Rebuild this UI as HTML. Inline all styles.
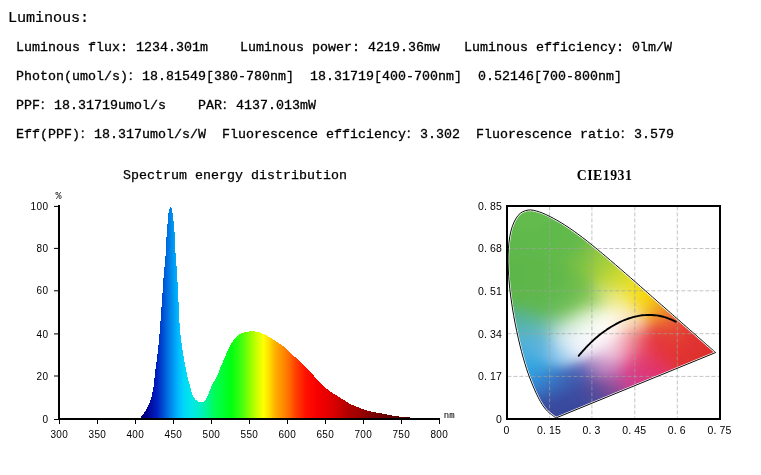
<!DOCTYPE html>
<html><head><meta charset="utf-8"><style>
html,body{margin:0;padding:0;background:#fff;}
body{width:761px;height:475px;overflow:hidden;position:relative;}
svg{position:absolute;left:0;top:0;}
.t{font-family:"Liberation Mono",monospace;font-size:13.3px;fill:#000;stroke:#000;stroke-width:0.3px;}
.h{font-family:"Liberation Mono",monospace;font-size:15.2px;fill:#000;stroke:#000;stroke-width:0.2px;}
.c{font-family:"Liberation Sans","Noto Sans CJK SC",sans-serif;font-size:11px;fill:#000;stroke:#000;stroke-width:0.3px;}
.st{font-family:"Liberation Mono",monospace;font-size:13.3px;fill:#000;stroke:#000;stroke-width:0.25px;}
.ct{font-family:"Liberation Serif",serif;font-size:13.8px;fill:#000;font-weight:bold;}
.ax{font-family:"Liberation Sans",sans-serif;font-size:10px;fill:#000;}
.cl{font-family:"Liberation Sans",sans-serif;font-size:10.5px;fill:#000;}
.pc{font-family:"Liberation Mono",monospace;font-size:10px;fill:#000;}
.nm{font-family:"Liberation Mono",monospace;font-size:9px;fill:#000;stroke:#000;stroke-width:0.05px;}
</style></head><body>
<svg width="761" height="475" viewBox="0 0 761 475">
<defs><linearGradient id="sg" gradientUnits="userSpaceOnUse" x1="140" y1="0" x2="411" y2="0"><stop offset="0.0000" stop-color="#000080"/><stop offset="0.0240" stop-color="#000090"/><stop offset="0.0627" stop-color="#0020c0"/><stop offset="0.1015" stop-color="#0070e0"/><stop offset="0.1402" stop-color="#00b8ff"/><stop offset="0.1624" stop-color="#00d8f8"/><stop offset="0.1908" stop-color="#00e8e8"/><stop offset="0.2251" stop-color="#00f0c0"/><stop offset="0.2568" stop-color="#00f880"/><stop offset="0.2768" stop-color="#00ff50"/><stop offset="0.2970" stop-color="#00ff40"/><stop offset="0.3358" stop-color="#00ff10"/><stop offset="0.3745" stop-color="#40ff10"/><stop offset="0.4059" stop-color="#90ff00"/><stop offset="0.4328" stop-color="#d0ff00"/><stop offset="0.4561" stop-color="#ffff00"/><stop offset="0.4756" stop-color="#ffe000"/><stop offset="0.4989" stop-color="#ffb000"/><stop offset="0.5299" stop-color="#ff8800"/><stop offset="0.5535" stop-color="#ff6800"/><stop offset="0.5738" stop-color="#ff4000"/><stop offset="0.6125" stop-color="#ff1000"/><stop offset="0.6513" stop-color="#f80000"/><stop offset="0.6900" stop-color="#e80000"/><stop offset="0.7292" stop-color="#d00000"/><stop offset="0.7675" stop-color="#b00000"/><stop offset="0.8066" stop-color="#a00000"/><stop offset="0.8542" stop-color="#800000"/><stop offset="0.8930" stop-color="#700000"/><stop offset="0.9321" stop-color="#600000"/><stop offset="0.9705" stop-color="#500000"/><stop offset="1.0000" stop-color="#480000"/></linearGradient><linearGradient id="r206" gradientUnits="userSpaceOnUse" x1="506" y1="0" x2="722" y2="0"><stop offset="0.000" stop-color="#64ba4e"/><stop offset="0.028" stop-color="#64ba4e"/><stop offset="0.056" stop-color="#64ba4e"/><stop offset="0.083" stop-color="#64ba4e"/><stop offset="0.111" stop-color="#64ba4e"/><stop offset="0.139" stop-color="#64ba4e"/><stop offset="0.167" stop-color="#64ba4e"/><stop offset="0.194" stop-color="#64ba4e"/><stop offset="0.222" stop-color="#64ba4e"/><stop offset="0.250" stop-color="#64ba4e"/><stop offset="0.278" stop-color="#63ba4e"/><stop offset="0.306" stop-color="#63ba4d"/><stop offset="0.333" stop-color="#62ba4d"/><stop offset="0.361" stop-color="#62ba4c"/><stop offset="0.389" stop-color="#62ba4c"/><stop offset="0.417" stop-color="#62ba4c"/><stop offset="0.444" stop-color="#63ba4d"/><stop offset="0.472" stop-color="#6ab952"/><stop offset="0.500" stop-color="#8eb377"/><stop offset="0.528" stop-color="#a4ad92"/><stop offset="0.556" stop-color="#a6ac95"/><stop offset="0.583" stop-color="#a6ac96"/><stop offset="0.611" stop-color="#a6ac96"/><stop offset="0.639" stop-color="#a6ac96"/><stop offset="0.667" stop-color="#a6ac96"/><stop offset="0.694" stop-color="#a6ac96"/><stop offset="0.722" stop-color="#a6ac96"/><stop offset="0.750" stop-color="#a6ac96"/><stop offset="0.778" stop-color="#a6ac96"/><stop offset="0.806" stop-color="#a6ac96"/><stop offset="0.833" stop-color="#a6ac96"/><stop offset="0.861" stop-color="#a6ac96"/><stop offset="0.889" stop-color="#a6ac96"/><stop offset="0.917" stop-color="#a6ac96"/><stop offset="0.944" stop-color="#a6ac96"/><stop offset="0.972" stop-color="#a6ac96"/><stop offset="1.000" stop-color="#a6ac96"/></linearGradient><linearGradient id="r209" gradientUnits="userSpaceOnUse" x1="506" y1="0" x2="722" y2="0"><stop offset="0.000" stop-color="#64ba4e"/><stop offset="0.028" stop-color="#64ba4e"/><stop offset="0.056" stop-color="#64ba4e"/><stop offset="0.083" stop-color="#64ba4e"/><stop offset="0.111" stop-color="#64ba4e"/><stop offset="0.139" stop-color="#64ba4e"/><stop offset="0.167" stop-color="#64ba4e"/><stop offset="0.194" stop-color="#64ba4e"/><stop offset="0.222" stop-color="#64ba4e"/><stop offset="0.250" stop-color="#63ba4e"/><stop offset="0.278" stop-color="#63ba4d"/><stop offset="0.306" stop-color="#62ba4d"/><stop offset="0.333" stop-color="#62ba4c"/><stop offset="0.361" stop-color="#62ba4c"/><stop offset="0.389" stop-color="#62ba4c"/><stop offset="0.417" stop-color="#62ba4c"/><stop offset="0.444" stop-color="#63ba4c"/><stop offset="0.472" stop-color="#67bb4d"/><stop offset="0.500" stop-color="#7dbb58"/><stop offset="0.528" stop-color="#9eb47e"/><stop offset="0.556" stop-color="#a5ad91"/><stop offset="0.583" stop-color="#a6ac95"/><stop offset="0.611" stop-color="#a6ac96"/><stop offset="0.639" stop-color="#a6ac96"/><stop offset="0.667" stop-color="#a6ac96"/><stop offset="0.694" stop-color="#a6ac96"/><stop offset="0.722" stop-color="#a6ac96"/><stop offset="0.750" stop-color="#a6ac96"/><stop offset="0.778" stop-color="#a6ac96"/><stop offset="0.806" stop-color="#a6ac96"/><stop offset="0.833" stop-color="#a6ac96"/><stop offset="0.861" stop-color="#a6ac96"/><stop offset="0.889" stop-color="#a6ac96"/><stop offset="0.917" stop-color="#a6ac96"/><stop offset="0.944" stop-color="#a6ac96"/><stop offset="0.972" stop-color="#a6ac96"/><stop offset="1.000" stop-color="#a6ac96"/></linearGradient><linearGradient id="r212" gradientUnits="userSpaceOnUse" x1="506" y1="0" x2="722" y2="0"><stop offset="0.000" stop-color="#64ba4e"/><stop offset="0.028" stop-color="#64ba4e"/><stop offset="0.056" stop-color="#64ba4e"/><stop offset="0.083" stop-color="#64ba4e"/><stop offset="0.111" stop-color="#64ba4e"/><stop offset="0.139" stop-color="#64ba4e"/><stop offset="0.167" stop-color="#64ba4e"/><stop offset="0.194" stop-color="#64ba4e"/><stop offset="0.222" stop-color="#63ba4e"/><stop offset="0.250" stop-color="#63ba4d"/><stop offset="0.278" stop-color="#62ba4d"/><stop offset="0.306" stop-color="#62ba4c"/><stop offset="0.333" stop-color="#62ba4c"/><stop offset="0.361" stop-color="#62ba4c"/><stop offset="0.389" stop-color="#62ba4c"/><stop offset="0.417" stop-color="#62ba4c"/><stop offset="0.444" stop-color="#64ba4c"/><stop offset="0.472" stop-color="#69bc4b"/><stop offset="0.500" stop-color="#7dc14a"/><stop offset="0.528" stop-color="#98c255"/><stop offset="0.556" stop-color="#a3b777"/><stop offset="0.583" stop-color="#a5ae8f"/><stop offset="0.611" stop-color="#a6ac95"/><stop offset="0.639" stop-color="#a6ac96"/><stop offset="0.667" stop-color="#a6ac96"/><stop offset="0.694" stop-color="#a6ac96"/><stop offset="0.722" stop-color="#a6ac96"/><stop offset="0.750" stop-color="#a6ac96"/><stop offset="0.778" stop-color="#a6ac96"/><stop offset="0.806" stop-color="#a6ac96"/><stop offset="0.833" stop-color="#a6ac96"/><stop offset="0.861" stop-color="#a6ac96"/><stop offset="0.889" stop-color="#a6ac96"/><stop offset="0.917" stop-color="#a6ac96"/><stop offset="0.944" stop-color="#a6ac96"/><stop offset="0.972" stop-color="#a6ac96"/><stop offset="1.000" stop-color="#a6ac96"/></linearGradient><linearGradient id="r215" gradientUnits="userSpaceOnUse" x1="506" y1="0" x2="722" y2="0"><stop offset="0.000" stop-color="#64ba4e"/><stop offset="0.028" stop-color="#64ba4e"/><stop offset="0.056" stop-color="#64ba4e"/><stop offset="0.083" stop-color="#64ba4e"/><stop offset="0.111" stop-color="#64ba4e"/><stop offset="0.139" stop-color="#64ba4e"/><stop offset="0.167" stop-color="#64ba4e"/><stop offset="0.194" stop-color="#63ba4e"/><stop offset="0.222" stop-color="#63ba4d"/><stop offset="0.250" stop-color="#62ba4d"/><stop offset="0.278" stop-color="#62ba4d"/><stop offset="0.306" stop-color="#62ba4c"/><stop offset="0.333" stop-color="#62ba4c"/><stop offset="0.361" stop-color="#62ba4c"/><stop offset="0.389" stop-color="#62ba4c"/><stop offset="0.417" stop-color="#63ba4c"/><stop offset="0.444" stop-color="#65bb4b"/><stop offset="0.472" stop-color="#6ebe49"/><stop offset="0.500" stop-color="#85c445"/><stop offset="0.528" stop-color="#98c943"/><stop offset="0.556" stop-color="#9fc64e"/><stop offset="0.583" stop-color="#a3b973"/><stop offset="0.611" stop-color="#a5ae90"/><stop offset="0.639" stop-color="#a6ac96"/><stop offset="0.667" stop-color="#a6ac96"/><stop offset="0.694" stop-color="#a6ac96"/><stop offset="0.722" stop-color="#a6ac96"/><stop offset="0.750" stop-color="#a6ac96"/><stop offset="0.778" stop-color="#a6ac96"/><stop offset="0.806" stop-color="#a6ac96"/><stop offset="0.833" stop-color="#a6ac96"/><stop offset="0.861" stop-color="#a6ac96"/><stop offset="0.889" stop-color="#a6ac96"/><stop offset="0.917" stop-color="#a6ac96"/><stop offset="0.944" stop-color="#a6ac96"/><stop offset="0.972" stop-color="#a6ac96"/><stop offset="1.000" stop-color="#a6ac96"/></linearGradient><linearGradient id="r218" gradientUnits="userSpaceOnUse" x1="506" y1="0" x2="722" y2="0"><stop offset="0.000" stop-color="#63ba4e"/><stop offset="0.028" stop-color="#64ba4e"/><stop offset="0.056" stop-color="#64ba4e"/><stop offset="0.083" stop-color="#64ba4e"/><stop offset="0.111" stop-color="#64ba4e"/><stop offset="0.139" stop-color="#64ba4e"/><stop offset="0.167" stop-color="#63ba4e"/><stop offset="0.194" stop-color="#63ba4d"/><stop offset="0.222" stop-color="#62ba4d"/><stop offset="0.250" stop-color="#62b94d"/><stop offset="0.278" stop-color="#61ba4c"/><stop offset="0.306" stop-color="#62ba4c"/><stop offset="0.333" stop-color="#62ba4c"/><stop offset="0.361" stop-color="#62ba4c"/><stop offset="0.389" stop-color="#62ba4c"/><stop offset="0.417" stop-color="#63ba4c"/><stop offset="0.444" stop-color="#67bc4b"/><stop offset="0.472" stop-color="#76c047"/><stop offset="0.500" stop-color="#8dc742"/><stop offset="0.528" stop-color="#9bcb40"/><stop offset="0.556" stop-color="#9fcc41"/><stop offset="0.583" stop-color="#a1c74d"/><stop offset="0.611" stop-color="#a4b778"/><stop offset="0.639" stop-color="#a6ad93"/><stop offset="0.667" stop-color="#a6ac96"/><stop offset="0.694" stop-color="#a6ac96"/><stop offset="0.722" stop-color="#a6ac96"/><stop offset="0.750" stop-color="#a6ac96"/><stop offset="0.778" stop-color="#a6ac96"/><stop offset="0.806" stop-color="#a6ac96"/><stop offset="0.833" stop-color="#a6ac96"/><stop offset="0.861" stop-color="#a6ac96"/><stop offset="0.889" stop-color="#a6ac96"/><stop offset="0.917" stop-color="#a6ac96"/><stop offset="0.944" stop-color="#a6ac96"/><stop offset="0.972" stop-color="#a6ac96"/><stop offset="1.000" stop-color="#a6ac96"/></linearGradient><linearGradient id="r221" gradientUnits="userSpaceOnUse" x1="506" y1="0" x2="722" y2="0"><stop offset="0.000" stop-color="#63ba4d"/><stop offset="0.028" stop-color="#63ba4d"/><stop offset="0.056" stop-color="#63ba4e"/><stop offset="0.083" stop-color="#63ba4e"/><stop offset="0.111" stop-color="#63ba4e"/><stop offset="0.139" stop-color="#63ba4e"/><stop offset="0.167" stop-color="#63ba4d"/><stop offset="0.194" stop-color="#62ba4d"/><stop offset="0.222" stop-color="#61b94d"/><stop offset="0.250" stop-color="#61b94c"/><stop offset="0.278" stop-color="#61ba4c"/><stop offset="0.306" stop-color="#62ba4c"/><stop offset="0.333" stop-color="#62ba4c"/><stop offset="0.361" stop-color="#62ba4c"/><stop offset="0.389" stop-color="#63ba4c"/><stop offset="0.417" stop-color="#65bb4b"/><stop offset="0.444" stop-color="#6bbd4a"/><stop offset="0.472" stop-color="#7ec245"/><stop offset="0.500" stop-color="#93c941"/><stop offset="0.528" stop-color="#9ccc3f"/><stop offset="0.556" stop-color="#9fcd3e"/><stop offset="0.583" stop-color="#a1cc40"/><stop offset="0.611" stop-color="#a3c651"/><stop offset="0.639" stop-color="#a6b382"/><stop offset="0.667" stop-color="#a6ac94"/><stop offset="0.694" stop-color="#a6ac96"/><stop offset="0.722" stop-color="#a6ac96"/><stop offset="0.750" stop-color="#a6ac96"/><stop offset="0.778" stop-color="#a6ac96"/><stop offset="0.806" stop-color="#a6ac96"/><stop offset="0.833" stop-color="#a6ac96"/><stop offset="0.861" stop-color="#a6ac96"/><stop offset="0.889" stop-color="#a6ac96"/><stop offset="0.917" stop-color="#a6ac96"/><stop offset="0.944" stop-color="#a6ac96"/><stop offset="0.972" stop-color="#a6ac96"/><stop offset="1.000" stop-color="#a6ac96"/></linearGradient><linearGradient id="r224" gradientUnits="userSpaceOnUse" x1="506" y1="0" x2="722" y2="0"><stop offset="0.000" stop-color="#62b94d"/><stop offset="0.028" stop-color="#62b94d"/><stop offset="0.056" stop-color="#63ba4d"/><stop offset="0.083" stop-color="#63ba4d"/><stop offset="0.111" stop-color="#63ba4d"/><stop offset="0.139" stop-color="#63ba4d"/><stop offset="0.167" stop-color="#62b94d"/><stop offset="0.194" stop-color="#61b94d"/><stop offset="0.222" stop-color="#61b94c"/><stop offset="0.250" stop-color="#61b94c"/><stop offset="0.278" stop-color="#61ba4c"/><stop offset="0.306" stop-color="#62ba4c"/><stop offset="0.333" stop-color="#62ba4c"/><stop offset="0.361" stop-color="#62ba4c"/><stop offset="0.389" stop-color="#63ba4c"/><stop offset="0.417" stop-color="#67bb4b"/><stop offset="0.444" stop-color="#71be48"/><stop offset="0.472" stop-color="#87c543"/><stop offset="0.500" stop-color="#97ca40"/><stop offset="0.528" stop-color="#9dcc3f"/><stop offset="0.556" stop-color="#a0cd3e"/><stop offset="0.583" stop-color="#a2cd3e"/><stop offset="0.611" stop-color="#a4cd41"/><stop offset="0.639" stop-color="#a9c35b"/><stop offset="0.667" stop-color="#a8b08b"/><stop offset="0.694" stop-color="#a6ac95"/><stop offset="0.722" stop-color="#a6ac96"/><stop offset="0.750" stop-color="#a6ac96"/><stop offset="0.778" stop-color="#a6ac96"/><stop offset="0.806" stop-color="#a6ac96"/><stop offset="0.833" stop-color="#a6ac96"/><stop offset="0.861" stop-color="#a6ac96"/><stop offset="0.889" stop-color="#a6ac96"/><stop offset="0.917" stop-color="#a6ac96"/><stop offset="0.944" stop-color="#a6ac96"/><stop offset="0.972" stop-color="#a6ac96"/><stop offset="1.000" stop-color="#a6ac96"/></linearGradient><linearGradient id="r227" gradientUnits="userSpaceOnUse" x1="506" y1="0" x2="722" y2="0"><stop offset="0.000" stop-color="#60b94c"/><stop offset="0.028" stop-color="#61b94c"/><stop offset="0.056" stop-color="#62b94d"/><stop offset="0.083" stop-color="#62b94d"/><stop offset="0.111" stop-color="#62b94d"/><stop offset="0.139" stop-color="#62b94d"/><stop offset="0.167" stop-color="#61b94d"/><stop offset="0.194" stop-color="#61b94c"/><stop offset="0.222" stop-color="#61b94c"/><stop offset="0.250" stop-color="#61b94c"/><stop offset="0.278" stop-color="#62ba4c"/><stop offset="0.306" stop-color="#62ba4c"/><stop offset="0.333" stop-color="#62ba4c"/><stop offset="0.361" stop-color="#63ba4c"/><stop offset="0.389" stop-color="#64bb4b"/><stop offset="0.417" stop-color="#6abc4a"/><stop offset="0.444" stop-color="#79c147"/><stop offset="0.472" stop-color="#8dc742"/><stop offset="0.500" stop-color="#99cb3f"/><stop offset="0.528" stop-color="#9ecc3e"/><stop offset="0.556" stop-color="#a0cd3e"/><stop offset="0.583" stop-color="#a3ce3d"/><stop offset="0.611" stop-color="#a7ce3c"/><stop offset="0.639" stop-color="#afce40"/><stop offset="0.667" stop-color="#b1bf67"/><stop offset="0.694" stop-color="#a8af8e"/><stop offset="0.722" stop-color="#a6ac95"/><stop offset="0.750" stop-color="#a6ac96"/><stop offset="0.778" stop-color="#a6ac96"/><stop offset="0.806" stop-color="#a6ac96"/><stop offset="0.833" stop-color="#a6ac96"/><stop offset="0.861" stop-color="#a6ac96"/><stop offset="0.889" stop-color="#a6ac96"/><stop offset="0.917" stop-color="#a6ac96"/><stop offset="0.944" stop-color="#a6ac96"/><stop offset="0.972" stop-color="#a6ac96"/><stop offset="1.000" stop-color="#a6ac96"/></linearGradient><linearGradient id="r230" gradientUnits="userSpaceOnUse" x1="506" y1="0" x2="722" y2="0"><stop offset="0.000" stop-color="#60b84b"/><stop offset="0.028" stop-color="#60b84c"/><stop offset="0.056" stop-color="#61b94c"/><stop offset="0.083" stop-color="#61b94c"/><stop offset="0.111" stop-color="#61b94c"/><stop offset="0.139" stop-color="#61b94c"/><stop offset="0.167" stop-color="#61b94c"/><stop offset="0.194" stop-color="#60b94c"/><stop offset="0.222" stop-color="#61b94c"/><stop offset="0.250" stop-color="#61ba4c"/><stop offset="0.278" stop-color="#62ba4c"/><stop offset="0.306" stop-color="#62ba4c"/><stop offset="0.333" stop-color="#62ba4c"/><stop offset="0.361" stop-color="#63ba4c"/><stop offset="0.389" stop-color="#66bb4b"/><stop offset="0.417" stop-color="#6ebe49"/><stop offset="0.444" stop-color="#80c345"/><stop offset="0.472" stop-color="#92c841"/><stop offset="0.500" stop-color="#9bcb3f"/><stop offset="0.528" stop-color="#9fcd3e"/><stop offset="0.556" stop-color="#a1cd3d"/><stop offset="0.583" stop-color="#a4ce3c"/><stop offset="0.611" stop-color="#aad03a"/><stop offset="0.639" stop-color="#b5d237"/><stop offset="0.667" stop-color="#c0d03d"/><stop offset="0.694" stop-color="#b5bc6f"/><stop offset="0.722" stop-color="#a8ae91"/><stop offset="0.750" stop-color="#a6ac96"/><stop offset="0.778" stop-color="#a6ac96"/><stop offset="0.806" stop-color="#a6ac96"/><stop offset="0.833" stop-color="#a6ac96"/><stop offset="0.861" stop-color="#a6ac96"/><stop offset="0.889" stop-color="#a6ac96"/><stop offset="0.917" stop-color="#a6ac96"/><stop offset="0.944" stop-color="#a6ac96"/><stop offset="0.972" stop-color="#a6ac96"/><stop offset="1.000" stop-color="#a6ac96"/></linearGradient><linearGradient id="r233" gradientUnits="userSpaceOnUse" x1="506" y1="0" x2="722" y2="0"><stop offset="0.000" stop-color="#5fb84b"/><stop offset="0.028" stop-color="#5fb84b"/><stop offset="0.056" stop-color="#60b84b"/><stop offset="0.083" stop-color="#60b94c"/><stop offset="0.111" stop-color="#60b94c"/><stop offset="0.139" stop-color="#60b94c"/><stop offset="0.167" stop-color="#60b94c"/><stop offset="0.194" stop-color="#60b94c"/><stop offset="0.222" stop-color="#61b94c"/><stop offset="0.250" stop-color="#61ba4c"/><stop offset="0.278" stop-color="#62ba4c"/><stop offset="0.306" stop-color="#62ba4c"/><stop offset="0.333" stop-color="#63ba4c"/><stop offset="0.361" stop-color="#64bb4b"/><stop offset="0.389" stop-color="#69bc4a"/><stop offset="0.417" stop-color="#74bf47"/><stop offset="0.444" stop-color="#86c543"/><stop offset="0.472" stop-color="#95c940"/><stop offset="0.500" stop-color="#9ccc3f"/><stop offset="0.528" stop-color="#a0cd3e"/><stop offset="0.556" stop-color="#a2ce3d"/><stop offset="0.583" stop-color="#a6cf3c"/><stop offset="0.611" stop-color="#aed138"/><stop offset="0.639" stop-color="#bcd432"/><stop offset="0.667" stop-color="#c9d72e"/><stop offset="0.694" stop-color="#cad03d"/><stop offset="0.722" stop-color="#b3b878"/><stop offset="0.750" stop-color="#a7ad93"/><stop offset="0.778" stop-color="#a6ac96"/><stop offset="0.806" stop-color="#a6ac96"/><stop offset="0.833" stop-color="#a6ac96"/><stop offset="0.861" stop-color="#a6ac96"/><stop offset="0.889" stop-color="#a6ac96"/><stop offset="0.917" stop-color="#a6ac96"/><stop offset="0.944" stop-color="#a6ac96"/><stop offset="0.972" stop-color="#a6ac96"/><stop offset="1.000" stop-color="#a6ac96"/></linearGradient><linearGradient id="r236" gradientUnits="userSpaceOnUse" x1="506" y1="0" x2="722" y2="0"><stop offset="0.000" stop-color="#5fb84b"/><stop offset="0.028" stop-color="#5fb84b"/><stop offset="0.056" stop-color="#5fb84b"/><stop offset="0.083" stop-color="#60b84b"/><stop offset="0.111" stop-color="#60b94c"/><stop offset="0.139" stop-color="#60b94c"/><stop offset="0.167" stop-color="#60b94c"/><stop offset="0.194" stop-color="#60b94c"/><stop offset="0.222" stop-color="#61b94c"/><stop offset="0.250" stop-color="#61ba4c"/><stop offset="0.278" stop-color="#62ba4c"/><stop offset="0.306" stop-color="#62ba4c"/><stop offset="0.333" stop-color="#64ba4c"/><stop offset="0.361" stop-color="#66bb4b"/><stop offset="0.389" stop-color="#6dbd49"/><stop offset="0.417" stop-color="#7bc146"/><stop offset="0.444" stop-color="#8bc642"/><stop offset="0.472" stop-color="#97ca40"/><stop offset="0.500" stop-color="#9dcc3e"/><stop offset="0.528" stop-color="#a1cd3e"/><stop offset="0.556" stop-color="#a4ce3c"/><stop offset="0.583" stop-color="#a9cf3a"/><stop offset="0.611" stop-color="#b4d236"/><stop offset="0.639" stop-color="#c2d62f"/><stop offset="0.667" stop-color="#ced929"/><stop offset="0.694" stop-color="#d4d929"/><stop offset="0.722" stop-color="#cbcd44"/><stop offset="0.750" stop-color="#afb384"/><stop offset="0.778" stop-color="#a7ac95"/><stop offset="0.806" stop-color="#a6ac96"/><stop offset="0.833" stop-color="#a6ac96"/><stop offset="0.861" stop-color="#a6ac96"/><stop offset="0.889" stop-color="#a6ac96"/><stop offset="0.917" stop-color="#a6ac96"/><stop offset="0.944" stop-color="#a6ac96"/><stop offset="0.972" stop-color="#a6ac96"/><stop offset="1.000" stop-color="#a6ac96"/></linearGradient><linearGradient id="r239" gradientUnits="userSpaceOnUse" x1="506" y1="0" x2="722" y2="0"><stop offset="0.000" stop-color="#5fb84b"/><stop offset="0.028" stop-color="#5fb84b"/><stop offset="0.056" stop-color="#5fb84b"/><stop offset="0.083" stop-color="#5fb84b"/><stop offset="0.111" stop-color="#60b94c"/><stop offset="0.139" stop-color="#60b94c"/><stop offset="0.167" stop-color="#60b94c"/><stop offset="0.194" stop-color="#60b94c"/><stop offset="0.222" stop-color="#61b94c"/><stop offset="0.250" stop-color="#62ba4c"/><stop offset="0.278" stop-color="#62ba4c"/><stop offset="0.306" stop-color="#63ba4c"/><stop offset="0.333" stop-color="#65bb4b"/><stop offset="0.361" stop-color="#69bc4a"/><stop offset="0.389" stop-color="#72bf48"/><stop offset="0.417" stop-color="#80c345"/><stop offset="0.444" stop-color="#8fc841"/><stop offset="0.472" stop-color="#99cb3f"/><stop offset="0.500" stop-color="#9fcc3e"/><stop offset="0.528" stop-color="#a2cd3d"/><stop offset="0.556" stop-color="#a6cf3c"/><stop offset="0.583" stop-color="#add139"/><stop offset="0.611" stop-color="#bad433"/><stop offset="0.639" stop-color="#c8d72c"/><stop offset="0.667" stop-color="#d2da27"/><stop offset="0.694" stop-color="#d8db24"/><stop offset="0.722" stop-color="#dad926"/><stop offset="0.750" stop-color="#c7c653"/><stop offset="0.778" stop-color="#abaf8c"/><stop offset="0.806" stop-color="#a6ac95"/><stop offset="0.833" stop-color="#a6ac96"/><stop offset="0.861" stop-color="#a6ac96"/><stop offset="0.889" stop-color="#a6ac96"/><stop offset="0.917" stop-color="#a6ac96"/><stop offset="0.944" stop-color="#a6ac96"/><stop offset="0.972" stop-color="#a6ac96"/><stop offset="1.000" stop-color="#a6ac96"/></linearGradient><linearGradient id="r242" gradientUnits="userSpaceOnUse" x1="506" y1="0" x2="722" y2="0"><stop offset="0.000" stop-color="#5fb84b"/><stop offset="0.028" stop-color="#5fb84b"/><stop offset="0.056" stop-color="#5fb84b"/><stop offset="0.083" stop-color="#5fb84b"/><stop offset="0.111" stop-color="#5fb84b"/><stop offset="0.139" stop-color="#60b94c"/><stop offset="0.167" stop-color="#60b94c"/><stop offset="0.194" stop-color="#60b94c"/><stop offset="0.222" stop-color="#61ba4c"/><stop offset="0.250" stop-color="#62ba4c"/><stop offset="0.278" stop-color="#63ba4c"/><stop offset="0.306" stop-color="#64ba4c"/><stop offset="0.333" stop-color="#66bb4b"/><stop offset="0.361" stop-color="#6cbd49"/><stop offset="0.389" stop-color="#77c047"/><stop offset="0.417" stop-color="#85c444"/><stop offset="0.444" stop-color="#92c941"/><stop offset="0.472" stop-color="#9bcb3f"/><stop offset="0.500" stop-color="#a0cd3e"/><stop offset="0.528" stop-color="#a4ce3d"/><stop offset="0.556" stop-color="#a9cf3b"/><stop offset="0.583" stop-color="#b2d237"/><stop offset="0.611" stop-color="#c0d530"/><stop offset="0.639" stop-color="#ccd82a"/><stop offset="0.667" stop-color="#d5da25"/><stop offset="0.694" stop-color="#dbdb21"/><stop offset="0.722" stop-color="#e0dc1d"/><stop offset="0.750" stop-color="#dfd625"/><stop offset="0.778" stop-color="#bfbd66"/><stop offset="0.806" stop-color="#a9ad91"/><stop offset="0.833" stop-color="#a6ac96"/><stop offset="0.861" stop-color="#a6ac96"/><stop offset="0.889" stop-color="#a6ac96"/><stop offset="0.917" stop-color="#a6ac96"/><stop offset="0.944" stop-color="#a6ac96"/><stop offset="0.972" stop-color="#a6ac96"/><stop offset="1.000" stop-color="#a6ac96"/></linearGradient><linearGradient id="r245" gradientUnits="userSpaceOnUse" x1="506" y1="0" x2="722" y2="0"><stop offset="0.000" stop-color="#5fb84b"/><stop offset="0.028" stop-color="#5fb84b"/><stop offset="0.056" stop-color="#5fb84b"/><stop offset="0.083" stop-color="#5fb84b"/><stop offset="0.111" stop-color="#5fb84b"/><stop offset="0.139" stop-color="#60b94c"/><stop offset="0.167" stop-color="#60b94c"/><stop offset="0.194" stop-color="#61b94c"/><stop offset="0.222" stop-color="#61ba4c"/><stop offset="0.250" stop-color="#62ba4c"/><stop offset="0.278" stop-color="#63ba4c"/><stop offset="0.306" stop-color="#65bb4b"/><stop offset="0.333" stop-color="#69bc4a"/><stop offset="0.361" stop-color="#71be48"/><stop offset="0.389" stop-color="#7cc146"/><stop offset="0.417" stop-color="#89c543"/><stop offset="0.444" stop-color="#95c940"/><stop offset="0.472" stop-color="#9ccc3f"/><stop offset="0.500" stop-color="#a1cd3d"/><stop offset="0.528" stop-color="#a6ce3c"/><stop offset="0.556" stop-color="#add039"/><stop offset="0.583" stop-color="#b8d334"/><stop offset="0.611" stop-color="#c5d72e"/><stop offset="0.639" stop-color="#d0d928"/><stop offset="0.667" stop-color="#d7db24"/><stop offset="0.694" stop-color="#dddc1f"/><stop offset="0.722" stop-color="#e3dc19"/><stop offset="0.750" stop-color="#e8db15"/><stop offset="0.778" stop-color="#dfd22b"/><stop offset="0.806" stop-color="#b5b57a"/><stop offset="0.833" stop-color="#a7ac94"/><stop offset="0.861" stop-color="#a6ac96"/><stop offset="0.889" stop-color="#a6ac96"/><stop offset="0.917" stop-color="#a6ac96"/><stop offset="0.944" stop-color="#a6ac96"/><stop offset="0.972" stop-color="#a6ac96"/><stop offset="1.000" stop-color="#a6ac96"/></linearGradient><linearGradient id="r248" gradientUnits="userSpaceOnUse" x1="506" y1="0" x2="722" y2="0"><stop offset="0.000" stop-color="#5fb84b"/><stop offset="0.028" stop-color="#5fb84b"/><stop offset="0.056" stop-color="#5fb84b"/><stop offset="0.083" stop-color="#5fb84b"/><stop offset="0.111" stop-color="#5fb84b"/><stop offset="0.139" stop-color="#60b94c"/><stop offset="0.167" stop-color="#60b94c"/><stop offset="0.194" stop-color="#61b94c"/><stop offset="0.222" stop-color="#62ba4c"/><stop offset="0.250" stop-color="#62ba4c"/><stop offset="0.278" stop-color="#64ba4b"/><stop offset="0.306" stop-color="#67bb4b"/><stop offset="0.333" stop-color="#6cbd49"/><stop offset="0.361" stop-color="#75bf47"/><stop offset="0.389" stop-color="#7fc345"/><stop offset="0.417" stop-color="#8cc642"/><stop offset="0.444" stop-color="#97ca40"/><stop offset="0.472" stop-color="#9ecc3e"/><stop offset="0.500" stop-color="#a3ce3d"/><stop offset="0.528" stop-color="#a9cf3b"/><stop offset="0.556" stop-color="#b1d237"/><stop offset="0.583" stop-color="#bed532"/><stop offset="0.611" stop-color="#cad82b"/><stop offset="0.639" stop-color="#d3da26"/><stop offset="0.667" stop-color="#dadb22"/><stop offset="0.694" stop-color="#e0dc1d"/><stop offset="0.722" stop-color="#e6dd16"/><stop offset="0.750" stop-color="#eddc10"/><stop offset="0.778" stop-color="#eeda11"/><stop offset="0.806" stop-color="#d6c840"/><stop offset="0.833" stop-color="#adb089"/><stop offset="0.861" stop-color="#a6ac95"/><stop offset="0.889" stop-color="#a6ac96"/><stop offset="0.917" stop-color="#a6ac96"/><stop offset="0.944" stop-color="#a6ac96"/><stop offset="0.972" stop-color="#a6ac96"/><stop offset="1.000" stop-color="#a6ac96"/></linearGradient><linearGradient id="r251" gradientUnits="userSpaceOnUse" x1="506" y1="0" x2="722" y2="0"><stop offset="0.000" stop-color="#5fb84b"/><stop offset="0.028" stop-color="#5fb84b"/><stop offset="0.056" stop-color="#5fb84b"/><stop offset="0.083" stop-color="#5fb84b"/><stop offset="0.111" stop-color="#5fb84b"/><stop offset="0.139" stop-color="#5fb84b"/><stop offset="0.167" stop-color="#60b94c"/><stop offset="0.194" stop-color="#61b94c"/><stop offset="0.222" stop-color="#62ba4c"/><stop offset="0.250" stop-color="#63ba4c"/><stop offset="0.278" stop-color="#65bb4b"/><stop offset="0.306" stop-color="#69bc4a"/><stop offset="0.333" stop-color="#70be48"/><stop offset="0.361" stop-color="#78c046"/><stop offset="0.389" stop-color="#83c444"/><stop offset="0.417" stop-color="#8fc741"/><stop offset="0.444" stop-color="#99cb3f"/><stop offset="0.472" stop-color="#a0cd3e"/><stop offset="0.500" stop-color="#a5ce3c"/><stop offset="0.528" stop-color="#acd039"/><stop offset="0.556" stop-color="#b7d335"/><stop offset="0.583" stop-color="#c3d62f"/><stop offset="0.611" stop-color="#ced929"/><stop offset="0.639" stop-color="#d6db25"/><stop offset="0.667" stop-color="#dcdc20"/><stop offset="0.694" stop-color="#e3dc1a"/><stop offset="0.722" stop-color="#eadd13"/><stop offset="0.750" stop-color="#efdc0d"/><stop offset="0.778" stop-color="#f2db0b"/><stop offset="0.806" stop-color="#edd517"/><stop offset="0.833" stop-color="#c4bb61"/><stop offset="0.861" stop-color="#a9ad91"/><stop offset="0.889" stop-color="#a6ac96"/><stop offset="0.917" stop-color="#a6ac96"/><stop offset="0.944" stop-color="#a6ac96"/><stop offset="0.972" stop-color="#a6ac96"/><stop offset="1.000" stop-color="#a6ac96"/></linearGradient><linearGradient id="r254" gradientUnits="userSpaceOnUse" x1="506" y1="0" x2="722" y2="0"><stop offset="0.000" stop-color="#5eb74b"/><stop offset="0.028" stop-color="#5eb74b"/><stop offset="0.056" stop-color="#5eb84b"/><stop offset="0.083" stop-color="#5fb84b"/><stop offset="0.111" stop-color="#5fb84b"/><stop offset="0.139" stop-color="#5fb84b"/><stop offset="0.167" stop-color="#60b84b"/><stop offset="0.194" stop-color="#61b94b"/><stop offset="0.222" stop-color="#62ba4b"/><stop offset="0.250" stop-color="#63ba4b"/><stop offset="0.278" stop-color="#67bb4b"/><stop offset="0.306" stop-color="#6cbd49"/><stop offset="0.333" stop-color="#73bf47"/><stop offset="0.361" stop-color="#7bc145"/><stop offset="0.389" stop-color="#85c443"/><stop offset="0.417" stop-color="#91c841"/><stop offset="0.444" stop-color="#9bcb3f"/><stop offset="0.472" stop-color="#a2cd3d"/><stop offset="0.500" stop-color="#a8cf3b"/><stop offset="0.528" stop-color="#b1d138"/><stop offset="0.556" stop-color="#bcd433"/><stop offset="0.583" stop-color="#c8d72d"/><stop offset="0.611" stop-color="#d1da28"/><stop offset="0.639" stop-color="#d8db23"/><stop offset="0.667" stop-color="#dfdc1e"/><stop offset="0.694" stop-color="#e6dc17"/><stop offset="0.722" stop-color="#ecdd10"/><stop offset="0.750" stop-color="#f1dc0b"/><stop offset="0.778" stop-color="#f4db09"/><stop offset="0.806" stop-color="#f3d60c"/><stop offset="0.833" stop-color="#e4c92a"/><stop offset="0.861" stop-color="#b5b17d"/><stop offset="0.889" stop-color="#a7ac94"/><stop offset="0.917" stop-color="#a6ac96"/><stop offset="0.944" stop-color="#a6ac96"/><stop offset="0.972" stop-color="#a6ac96"/><stop offset="1.000" stop-color="#a6ac96"/></linearGradient><linearGradient id="r257" gradientUnits="userSpaceOnUse" x1="506" y1="0" x2="722" y2="0"><stop offset="0.000" stop-color="#5db74a"/><stop offset="0.028" stop-color="#5db74a"/><stop offset="0.056" stop-color="#5eb74a"/><stop offset="0.083" stop-color="#5eb74b"/><stop offset="0.111" stop-color="#5eb74b"/><stop offset="0.139" stop-color="#5fb84b"/><stop offset="0.167" stop-color="#5fb84b"/><stop offset="0.194" stop-color="#60b94b"/><stop offset="0.222" stop-color="#62b94b"/><stop offset="0.250" stop-color="#64ba4b"/><stop offset="0.278" stop-color="#68bb4a"/><stop offset="0.306" stop-color="#6fbd48"/><stop offset="0.333" stop-color="#76c047"/><stop offset="0.361" stop-color="#7ec245"/><stop offset="0.389" stop-color="#88c543"/><stop offset="0.417" stop-color="#94c940"/><stop offset="0.444" stop-color="#9dcc3e"/><stop offset="0.472" stop-color="#a4ce3c"/><stop offset="0.500" stop-color="#acd03a"/><stop offset="0.528" stop-color="#b5d336"/><stop offset="0.556" stop-color="#c1d630"/><stop offset="0.583" stop-color="#ccd82b"/><stop offset="0.611" stop-color="#d4da26"/><stop offset="0.639" stop-color="#dbdb21"/><stop offset="0.667" stop-color="#e2dc1b"/><stop offset="0.694" stop-color="#e9dd14"/><stop offset="0.722" stop-color="#efdc0d"/><stop offset="0.750" stop-color="#f3dc0a"/><stop offset="0.778" stop-color="#f5d909"/><stop offset="0.806" stop-color="#f5d40b"/><stop offset="0.833" stop-color="#f1cb15"/><stop offset="0.861" stop-color="#d4b949"/><stop offset="0.889" stop-color="#adad8b"/><stop offset="0.917" stop-color="#a6ac95"/><stop offset="0.944" stop-color="#a6ac96"/><stop offset="0.972" stop-color="#a6ac96"/><stop offset="1.000" stop-color="#a6ac96"/></linearGradient><linearGradient id="r260" gradientUnits="userSpaceOnUse" x1="506" y1="0" x2="722" y2="0"><stop offset="0.000" stop-color="#5cb64a"/><stop offset="0.028" stop-color="#5db64a"/><stop offset="0.056" stop-color="#5db74a"/><stop offset="0.083" stop-color="#5db74a"/><stop offset="0.111" stop-color="#5eb74a"/><stop offset="0.139" stop-color="#5eb74a"/><stop offset="0.167" stop-color="#5fb84a"/><stop offset="0.194" stop-color="#60b84a"/><stop offset="0.222" stop-color="#61b94b"/><stop offset="0.250" stop-color="#64ba4a"/><stop offset="0.278" stop-color="#69bc49"/><stop offset="0.306" stop-color="#71be48"/><stop offset="0.333" stop-color="#78c046"/><stop offset="0.361" stop-color="#80c345"/><stop offset="0.389" stop-color="#8ac642"/><stop offset="0.417" stop-color="#96ca40"/><stop offset="0.444" stop-color="#a0cd3e"/><stop offset="0.472" stop-color="#a7cf3b"/><stop offset="0.500" stop-color="#b0d138"/><stop offset="0.528" stop-color="#bad434"/><stop offset="0.556" stop-color="#c6d72e"/><stop offset="0.583" stop-color="#cfd929"/><stop offset="0.611" stop-color="#d7db24"/><stop offset="0.639" stop-color="#dedc1f"/><stop offset="0.667" stop-color="#e5dc18"/><stop offset="0.694" stop-color="#ecdd11"/><stop offset="0.722" stop-color="#f1dc0b"/><stop offset="0.750" stop-color="#f4db09"/><stop offset="0.778" stop-color="#f5d709"/><stop offset="0.806" stop-color="#f5d10c"/><stop offset="0.833" stop-color="#f3c813"/><stop offset="0.861" stop-color="#ebbb26"/><stop offset="0.889" stop-color="#c3ae68"/><stop offset="0.917" stop-color="#a8ab92"/><stop offset="0.944" stop-color="#a6ac96"/><stop offset="0.972" stop-color="#a6ac96"/><stop offset="1.000" stop-color="#a6ac96"/></linearGradient><linearGradient id="r263" gradientUnits="userSpaceOnUse" x1="506" y1="0" x2="722" y2="0"><stop offset="0.000" stop-color="#5cb64a"/><stop offset="0.028" stop-color="#5cb64a"/><stop offset="0.056" stop-color="#5db64a"/><stop offset="0.083" stop-color="#5db74a"/><stop offset="0.111" stop-color="#5eb74a"/><stop offset="0.139" stop-color="#5eb74a"/><stop offset="0.167" stop-color="#5fb74a"/><stop offset="0.194" stop-color="#60b84a"/><stop offset="0.222" stop-color="#61b84a"/><stop offset="0.250" stop-color="#63b94a"/><stop offset="0.278" stop-color="#69bb49"/><stop offset="0.306" stop-color="#71be47"/><stop offset="0.333" stop-color="#79c046"/><stop offset="0.361" stop-color="#81c344"/><stop offset="0.389" stop-color="#8dc742"/><stop offset="0.417" stop-color="#99cb3f"/><stop offset="0.444" stop-color="#a3ce3d"/><stop offset="0.472" stop-color="#abd03a"/><stop offset="0.500" stop-color="#b5d237"/><stop offset="0.528" stop-color="#bfd532"/><stop offset="0.556" stop-color="#cad82d"/><stop offset="0.583" stop-color="#d2da28"/><stop offset="0.611" stop-color="#d9db23"/><stop offset="0.639" stop-color="#e1dc1c"/><stop offset="0.667" stop-color="#e8dd15"/><stop offset="0.694" stop-color="#efdc0e"/><stop offset="0.722" stop-color="#f3db0a"/><stop offset="0.750" stop-color="#f5d909"/><stop offset="0.778" stop-color="#f5d50a"/><stop offset="0.806" stop-color="#f5cd0e"/><stop offset="0.833" stop-color="#f4c315"/><stop offset="0.861" stop-color="#f1b71f"/><stop offset="0.889" stop-color="#e1ad3b"/><stop offset="0.917" stop-color="#b4aa81"/><stop offset="0.944" stop-color="#a7ab95"/><stop offset="0.972" stop-color="#a6ac96"/><stop offset="1.000" stop-color="#a6ac96"/></linearGradient><linearGradient id="r266" gradientUnits="userSpaceOnUse" x1="506" y1="0" x2="722" y2="0"><stop offset="0.000" stop-color="#5cb64a"/><stop offset="0.028" stop-color="#5cb64a"/><stop offset="0.056" stop-color="#5cb64a"/><stop offset="0.083" stop-color="#5db64a"/><stop offset="0.111" stop-color="#5eb74a"/><stop offset="0.139" stop-color="#5eb74a"/><stop offset="0.167" stop-color="#5fb74a"/><stop offset="0.194" stop-color="#5fb84a"/><stop offset="0.222" stop-color="#61b84a"/><stop offset="0.250" stop-color="#63b94a"/><stop offset="0.278" stop-color="#68bb49"/><stop offset="0.306" stop-color="#71be48"/><stop offset="0.333" stop-color="#79c046"/><stop offset="0.361" stop-color="#82c344"/><stop offset="0.389" stop-color="#8fc742"/><stop offset="0.417" stop-color="#9ccb3f"/><stop offset="0.444" stop-color="#a6cf3c"/><stop offset="0.472" stop-color="#afd139"/><stop offset="0.500" stop-color="#b9d435"/><stop offset="0.528" stop-color="#c4d630"/><stop offset="0.556" stop-color="#cdd92c"/><stop offset="0.583" stop-color="#d5db27"/><stop offset="0.611" stop-color="#dcdc21"/><stop offset="0.639" stop-color="#e4dc1a"/><stop offset="0.667" stop-color="#ebdd12"/><stop offset="0.694" stop-color="#f1dc0c"/><stop offset="0.722" stop-color="#f4db09"/><stop offset="0.750" stop-color="#f5d709"/><stop offset="0.778" stop-color="#f5d20c"/><stop offset="0.806" stop-color="#f4c811"/><stop offset="0.833" stop-color="#f3bd18"/><stop offset="0.861" stop-color="#f2b21f"/><stop offset="0.889" stop-color="#eda829"/><stop offset="0.917" stop-color="#d0a356"/><stop offset="0.944" stop-color="#abaa8f"/><stop offset="0.972" stop-color="#a6ab96"/><stop offset="1.000" stop-color="#a6ac96"/></linearGradient><linearGradient id="r269" gradientUnits="userSpaceOnUse" x1="506" y1="0" x2="722" y2="0"><stop offset="0.000" stop-color="#5cb64a"/><stop offset="0.028" stop-color="#5cb64a"/><stop offset="0.056" stop-color="#5cb64a"/><stop offset="0.083" stop-color="#5db64a"/><stop offset="0.111" stop-color="#5db74a"/><stop offset="0.139" stop-color="#5eb74a"/><stop offset="0.167" stop-color="#5eb74a"/><stop offset="0.194" stop-color="#5fb84a"/><stop offset="0.222" stop-color="#60b84a"/><stop offset="0.250" stop-color="#62b94a"/><stop offset="0.278" stop-color="#67ba49"/><stop offset="0.306" stop-color="#6fbd48"/><stop offset="0.333" stop-color="#78c046"/><stop offset="0.361" stop-color="#83c444"/><stop offset="0.389" stop-color="#90c842"/><stop offset="0.417" stop-color="#9ecc3f"/><stop offset="0.444" stop-color="#aad03c"/><stop offset="0.472" stop-color="#b4d238"/><stop offset="0.500" stop-color="#bed534"/><stop offset="0.528" stop-color="#c8d830"/><stop offset="0.556" stop-color="#d1da2b"/><stop offset="0.583" stop-color="#d8db26"/><stop offset="0.611" stop-color="#dfdc1f"/><stop offset="0.639" stop-color="#e7dd17"/><stop offset="0.667" stop-color="#eedc0f"/><stop offset="0.694" stop-color="#f2db0a"/><stop offset="0.722" stop-color="#f4d909"/><stop offset="0.750" stop-color="#f5d50a"/><stop offset="0.778" stop-color="#f5ce0e"/><stop offset="0.806" stop-color="#f4c314"/><stop offset="0.833" stop-color="#f3b81c"/><stop offset="0.861" stop-color="#f1ad22"/><stop offset="0.889" stop-color="#efa227"/><stop offset="0.917" stop-color="#e69936"/><stop offset="0.944" stop-color="#bca176"/><stop offset="0.972" stop-color="#a7ab94"/><stop offset="1.000" stop-color="#a6ac96"/></linearGradient><linearGradient id="r272" gradientUnits="userSpaceOnUse" x1="506" y1="0" x2="722" y2="0"><stop offset="0.000" stop-color="#5cb64a"/><stop offset="0.028" stop-color="#5cb64a"/><stop offset="0.056" stop-color="#5cb64a"/><stop offset="0.083" stop-color="#5db64a"/><stop offset="0.111" stop-color="#5db74a"/><stop offset="0.139" stop-color="#5eb74a"/><stop offset="0.167" stop-color="#5eb74a"/><stop offset="0.194" stop-color="#5fb84a"/><stop offset="0.222" stop-color="#60b84a"/><stop offset="0.250" stop-color="#62b94a"/><stop offset="0.278" stop-color="#66ba4a"/><stop offset="0.306" stop-color="#6ebd49"/><stop offset="0.333" stop-color="#77c047"/><stop offset="0.361" stop-color="#82c345"/><stop offset="0.389" stop-color="#91c843"/><stop offset="0.417" stop-color="#a1cd40"/><stop offset="0.444" stop-color="#aed13c"/><stop offset="0.472" stop-color="#b9d439"/><stop offset="0.500" stop-color="#c3d734"/><stop offset="0.528" stop-color="#ccd930"/><stop offset="0.556" stop-color="#d4da2b"/><stop offset="0.583" stop-color="#dbdc25"/><stop offset="0.611" stop-color="#e3dc1d"/><stop offset="0.639" stop-color="#ebdd14"/><stop offset="0.667" stop-color="#f0dc0d"/><stop offset="0.694" stop-color="#f4db0a"/><stop offset="0.722" stop-color="#f5d809"/><stop offset="0.750" stop-color="#f5d20b"/><stop offset="0.778" stop-color="#f4c911"/><stop offset="0.806" stop-color="#f3be18"/><stop offset="0.833" stop-color="#f2b21e"/><stop offset="0.861" stop-color="#f1a724"/><stop offset="0.889" stop-color="#ef9c28"/><stop offset="0.917" stop-color="#ec912e"/><stop offset="0.944" stop-color="#d88e4d"/><stop offset="0.972" stop-color="#aea58a"/><stop offset="1.000" stop-color="#a6ab95"/></linearGradient><linearGradient id="r275" gradientUnits="userSpaceOnUse" x1="506" y1="0" x2="722" y2="0"><stop offset="0.000" stop-color="#5cb64a"/><stop offset="0.028" stop-color="#5cb64a"/><stop offset="0.056" stop-color="#5cb64a"/><stop offset="0.083" stop-color="#5db64a"/><stop offset="0.111" stop-color="#5eb74a"/><stop offset="0.139" stop-color="#5eb74a"/><stop offset="0.167" stop-color="#5fb74a"/><stop offset="0.194" stop-color="#5fb84a"/><stop offset="0.222" stop-color="#60b84a"/><stop offset="0.250" stop-color="#62b94a"/><stop offset="0.278" stop-color="#65ba4a"/><stop offset="0.306" stop-color="#6cbc4a"/><stop offset="0.333" stop-color="#75bf49"/><stop offset="0.361" stop-color="#80c347"/><stop offset="0.389" stop-color="#91c845"/><stop offset="0.417" stop-color="#a4ce42"/><stop offset="0.444" stop-color="#b3d33f"/><stop offset="0.472" stop-color="#bed63b"/><stop offset="0.500" stop-color="#c7d836"/><stop offset="0.528" stop-color="#cfda31"/><stop offset="0.556" stop-color="#d7db2b"/><stop offset="0.583" stop-color="#dfdc24"/><stop offset="0.611" stop-color="#e6dd1b"/><stop offset="0.639" stop-color="#eddd12"/><stop offset="0.667" stop-color="#f2dc0c"/><stop offset="0.694" stop-color="#f4d909"/><stop offset="0.722" stop-color="#f5d50a"/><stop offset="0.750" stop-color="#f5ce0e"/><stop offset="0.778" stop-color="#f4c414"/><stop offset="0.806" stop-color="#f3b81b"/><stop offset="0.833" stop-color="#f1ad21"/><stop offset="0.861" stop-color="#f0a126"/><stop offset="0.889" stop-color="#ef962a"/><stop offset="0.917" stop-color="#ed892e"/><stop offset="0.944" stop-color="#e67d37"/><stop offset="0.972" stop-color="#c38f6b"/><stop offset="1.000" stop-color="#a8a892"/></linearGradient><linearGradient id="r278" gradientUnits="userSpaceOnUse" x1="506" y1="0" x2="722" y2="0"><stop offset="0.000" stop-color="#5cb64a"/><stop offset="0.028" stop-color="#5cb64a"/><stop offset="0.056" stop-color="#5db64a"/><stop offset="0.083" stop-color="#5db64a"/><stop offset="0.111" stop-color="#5eb74a"/><stop offset="0.139" stop-color="#5eb74a"/><stop offset="0.167" stop-color="#5fb74a"/><stop offset="0.194" stop-color="#5fb84b"/><stop offset="0.222" stop-color="#61b84b"/><stop offset="0.250" stop-color="#62b94b"/><stop offset="0.278" stop-color="#66ba4b"/><stop offset="0.306" stop-color="#6cbc4b"/><stop offset="0.333" stop-color="#73bf4a"/><stop offset="0.361" stop-color="#7dc24a"/><stop offset="0.389" stop-color="#8fc849"/><stop offset="0.417" stop-color="#a6d048"/><stop offset="0.444" stop-color="#b7d544"/><stop offset="0.472" stop-color="#c2d83f"/><stop offset="0.500" stop-color="#cbda3a"/><stop offset="0.528" stop-color="#d3db34"/><stop offset="0.556" stop-color="#dbdc2d"/><stop offset="0.583" stop-color="#e2dd25"/><stop offset="0.611" stop-color="#eadd1a"/><stop offset="0.639" stop-color="#f0dc10"/><stop offset="0.667" stop-color="#f3db0b"/><stop offset="0.694" stop-color="#f5d809"/><stop offset="0.722" stop-color="#f5d20b"/><stop offset="0.750" stop-color="#f4ca10"/><stop offset="0.778" stop-color="#f3be17"/><stop offset="0.806" stop-color="#f2b21e"/><stop offset="0.833" stop-color="#f1a724"/><stop offset="0.861" stop-color="#ef9b28"/><stop offset="0.889" stop-color="#ee8e2c"/><stop offset="0.917" stop-color="#ec812f"/><stop offset="0.944" stop-color="#e97233"/><stop offset="0.972" stop-color="#dc6f45"/><stop offset="1.000" stop-color="#b49881"/></linearGradient><linearGradient id="r281" gradientUnits="userSpaceOnUse" x1="506" y1="0" x2="722" y2="0"><stop offset="0.000" stop-color="#5cb64a"/><stop offset="0.028" stop-color="#5cb64a"/><stop offset="0.056" stop-color="#5db64a"/><stop offset="0.083" stop-color="#5db64a"/><stop offset="0.111" stop-color="#5eb74b"/><stop offset="0.139" stop-color="#5eb74b"/><stop offset="0.167" stop-color="#5fb74b"/><stop offset="0.194" stop-color="#60b84b"/><stop offset="0.222" stop-color="#61b84c"/><stop offset="0.250" stop-color="#63b94c"/><stop offset="0.278" stop-color="#66ba4c"/><stop offset="0.306" stop-color="#6bbc4c"/><stop offset="0.333" stop-color="#72bf4c"/><stop offset="0.361" stop-color="#7bc24c"/><stop offset="0.389" stop-color="#8ec84e"/><stop offset="0.417" stop-color="#a7d14f"/><stop offset="0.444" stop-color="#bbd74c"/><stop offset="0.472" stop-color="#c7da47"/><stop offset="0.500" stop-color="#d0dc40"/><stop offset="0.528" stop-color="#d7dd39"/><stop offset="0.556" stop-color="#dfde31"/><stop offset="0.583" stop-color="#e6de26"/><stop offset="0.611" stop-color="#eddd19"/><stop offset="0.639" stop-color="#f2dc0f"/><stop offset="0.667" stop-color="#f4da0b"/><stop offset="0.694" stop-color="#f5d50a"/><stop offset="0.722" stop-color="#f5ce0d"/><stop offset="0.750" stop-color="#f4c413"/><stop offset="0.778" stop-color="#f3b91b"/><stop offset="0.806" stop-color="#f1ad21"/><stop offset="0.833" stop-color="#f0a126"/><stop offset="0.861" stop-color="#ef942a"/><stop offset="0.889" stop-color="#ed872d"/><stop offset="0.917" stop-color="#eb7830"/><stop offset="0.944" stop-color="#e96932"/><stop offset="0.972" stop-color="#e55c37"/><stop offset="1.000" stop-color="#ce7059"/></linearGradient><linearGradient id="r284" gradientUnits="userSpaceOnUse" x1="506" y1="0" x2="722" y2="0"><stop offset="0.000" stop-color="#5db64b"/><stop offset="0.028" stop-color="#5db64b"/><stop offset="0.056" stop-color="#5db64b"/><stop offset="0.083" stop-color="#5db64b"/><stop offset="0.111" stop-color="#5eb74b"/><stop offset="0.139" stop-color="#5eb74b"/><stop offset="0.167" stop-color="#5fb74b"/><stop offset="0.194" stop-color="#60b84c"/><stop offset="0.222" stop-color="#61b94c"/><stop offset="0.250" stop-color="#63b94d"/><stop offset="0.278" stop-color="#67bb4d"/><stop offset="0.306" stop-color="#6bbd4d"/><stop offset="0.333" stop-color="#72bf4d"/><stop offset="0.361" stop-color="#7bc24f"/><stop offset="0.389" stop-color="#8ec953"/><stop offset="0.417" stop-color="#a8d257"/><stop offset="0.444" stop-color="#bed957"/><stop offset="0.472" stop-color="#cbdc51"/><stop offset="0.500" stop-color="#d4de4a"/><stop offset="0.528" stop-color="#dcdf41"/><stop offset="0.556" stop-color="#e3df36"/><stop offset="0.583" stop-color="#eade28"/><stop offset="0.611" stop-color="#efdd19"/><stop offset="0.639" stop-color="#f3db0f"/><stop offset="0.667" stop-color="#f5d80b"/><stop offset="0.694" stop-color="#f5d30c"/><stop offset="0.722" stop-color="#f4ca10"/><stop offset="0.750" stop-color="#f3bf17"/><stop offset="0.778" stop-color="#f2b31e"/><stop offset="0.806" stop-color="#f1a624"/><stop offset="0.833" stop-color="#ef9a28"/><stop offset="0.861" stop-color="#ee8d2c"/><stop offset="0.889" stop-color="#ec7f2f"/><stop offset="0.917" stop-color="#ea7031"/><stop offset="0.944" stop-color="#e86033"/><stop offset="0.972" stop-color="#e65334"/><stop offset="1.000" stop-color="#df513d"/></linearGradient><linearGradient id="r287" gradientUnits="userSpaceOnUse" x1="506" y1="0" x2="722" y2="0"><stop offset="0.000" stop-color="#5db64b"/><stop offset="0.028" stop-color="#5db64b"/><stop offset="0.056" stop-color="#5db64c"/><stop offset="0.083" stop-color="#5eb64c"/><stop offset="0.111" stop-color="#5eb74c"/><stop offset="0.139" stop-color="#5fb74c"/><stop offset="0.167" stop-color="#5fb74c"/><stop offset="0.194" stop-color="#60b84d"/><stop offset="0.222" stop-color="#62b94d"/><stop offset="0.250" stop-color="#64ba4e"/><stop offset="0.278" stop-color="#67bb4e"/><stop offset="0.306" stop-color="#6cbd4e"/><stop offset="0.333" stop-color="#72bf4f"/><stop offset="0.361" stop-color="#7cc351"/><stop offset="0.389" stop-color="#8eca57"/><stop offset="0.417" stop-color="#a9d35f"/><stop offset="0.444" stop-color="#c0db62"/><stop offset="0.472" stop-color="#cfdf5e"/><stop offset="0.500" stop-color="#d9e056"/><stop offset="0.528" stop-color="#e0e14c"/><stop offset="0.556" stop-color="#e7e03d"/><stop offset="0.583" stop-color="#eddf2b"/><stop offset="0.611" stop-color="#f1dd1a"/><stop offset="0.639" stop-color="#f4da0f"/><stop offset="0.667" stop-color="#f5d60c"/><stop offset="0.694" stop-color="#f5cf0e"/><stop offset="0.722" stop-color="#f4c513"/><stop offset="0.750" stop-color="#f3b91a"/><stop offset="0.778" stop-color="#f1ac21"/><stop offset="0.806" stop-color="#f0a026"/><stop offset="0.833" stop-color="#ee932a"/><stop offset="0.861" stop-color="#ed862e"/><stop offset="0.889" stop-color="#eb7730"/><stop offset="0.917" stop-color="#e96832"/><stop offset="0.944" stop-color="#e85933"/><stop offset="0.972" stop-color="#e64c34"/><stop offset="1.000" stop-color="#e44636"/></linearGradient><linearGradient id="r290" gradientUnits="userSpaceOnUse" x1="506" y1="0" x2="722" y2="0"><stop offset="0.000" stop-color="#5db64c"/><stop offset="0.028" stop-color="#5eb64c"/><stop offset="0.056" stop-color="#5eb64c"/><stop offset="0.083" stop-color="#5eb64c"/><stop offset="0.111" stop-color="#5eb74d"/><stop offset="0.139" stop-color="#5fb74d"/><stop offset="0.167" stop-color="#60b74d"/><stop offset="0.194" stop-color="#61b84e"/><stop offset="0.222" stop-color="#62b94e"/><stop offset="0.250" stop-color="#65ba4f"/><stop offset="0.278" stop-color="#68bb4f"/><stop offset="0.306" stop-color="#6dbd50"/><stop offset="0.333" stop-color="#74c051"/><stop offset="0.361" stop-color="#7ec454"/><stop offset="0.389" stop-color="#90cb5b"/><stop offset="0.417" stop-color="#a9d465"/><stop offset="0.444" stop-color="#c2dc6b"/><stop offset="0.472" stop-color="#d3e16a"/><stop offset="0.500" stop-color="#dde363"/><stop offset="0.528" stop-color="#e5e358"/><stop offset="0.556" stop-color="#eae246"/><stop offset="0.583" stop-color="#efe02f"/><stop offset="0.611" stop-color="#f3dd1c"/><stop offset="0.639" stop-color="#f5d911"/><stop offset="0.667" stop-color="#f5d30e"/><stop offset="0.694" stop-color="#f4cb10"/><stop offset="0.722" stop-color="#f3c016"/><stop offset="0.750" stop-color="#f2b31e"/><stop offset="0.778" stop-color="#f1a624"/><stop offset="0.806" stop-color="#ef9928"/><stop offset="0.833" stop-color="#ee8c2c"/><stop offset="0.861" stop-color="#ec7e2f"/><stop offset="0.889" stop-color="#ea6f31"/><stop offset="0.917" stop-color="#e96033"/><stop offset="0.944" stop-color="#e75233"/><stop offset="0.972" stop-color="#e54834"/><stop offset="1.000" stop-color="#e44134"/></linearGradient><linearGradient id="r293" gradientUnits="userSpaceOnUse" x1="506" y1="0" x2="722" y2="0"><stop offset="0.000" stop-color="#5db64e"/><stop offset="0.028" stop-color="#5eb64e"/><stop offset="0.056" stop-color="#5eb64e"/><stop offset="0.083" stop-color="#5eb64e"/><stop offset="0.111" stop-color="#5eb74e"/><stop offset="0.139" stop-color="#5fb74e"/><stop offset="0.167" stop-color="#60b74e"/><stop offset="0.194" stop-color="#61b84f"/><stop offset="0.222" stop-color="#63b94f"/><stop offset="0.250" stop-color="#65ba50"/><stop offset="0.278" stop-color="#69bc51"/><stop offset="0.306" stop-color="#6ebe52"/><stop offset="0.333" stop-color="#76c154"/><stop offset="0.361" stop-color="#81c557"/><stop offset="0.389" stop-color="#92cc5f"/><stop offset="0.417" stop-color="#aad56a"/><stop offset="0.444" stop-color="#c4de73"/><stop offset="0.472" stop-color="#d6e376"/><stop offset="0.500" stop-color="#e2e571"/><stop offset="0.528" stop-color="#e8e565"/><stop offset="0.556" stop-color="#ede350"/><stop offset="0.583" stop-color="#f1e036"/><stop offset="0.611" stop-color="#f4dc20"/><stop offset="0.639" stop-color="#f5d713"/><stop offset="0.667" stop-color="#f5d010"/><stop offset="0.694" stop-color="#f4c613"/><stop offset="0.722" stop-color="#f3ba1a"/><stop offset="0.750" stop-color="#f1ac21"/><stop offset="0.778" stop-color="#f09f26"/><stop offset="0.806" stop-color="#ee922a"/><stop offset="0.833" stop-color="#ed842e"/><stop offset="0.861" stop-color="#eb7630"/><stop offset="0.889" stop-color="#e96732"/><stop offset="0.917" stop-color="#e85933"/><stop offset="0.944" stop-color="#e64d34"/><stop offset="0.972" stop-color="#e54434"/><stop offset="1.000" stop-color="#e43e33"/></linearGradient><linearGradient id="r296" gradientUnits="userSpaceOnUse" x1="506" y1="0" x2="722" y2="0"><stop offset="0.000" stop-color="#5db651"/><stop offset="0.028" stop-color="#5db650"/><stop offset="0.056" stop-color="#5eb650"/><stop offset="0.083" stop-color="#5eb64f"/><stop offset="0.111" stop-color="#5eb74f"/><stop offset="0.139" stop-color="#5fb74f"/><stop offset="0.167" stop-color="#60b74f"/><stop offset="0.194" stop-color="#61b850"/><stop offset="0.222" stop-color="#64b951"/><stop offset="0.250" stop-color="#66bb52"/><stop offset="0.278" stop-color="#6abc53"/><stop offset="0.306" stop-color="#70bf55"/><stop offset="0.333" stop-color="#79c258"/><stop offset="0.361" stop-color="#85c75d"/><stop offset="0.389" stop-color="#96cd64"/><stop offset="0.417" stop-color="#acd670"/><stop offset="0.444" stop-color="#c6df7b"/><stop offset="0.472" stop-color="#dae581"/><stop offset="0.500" stop-color="#e5e77e"/><stop offset="0.528" stop-color="#ece772"/><stop offset="0.556" stop-color="#f0e55d"/><stop offset="0.583" stop-color="#f3e140"/><stop offset="0.611" stop-color="#f5db26"/><stop offset="0.639" stop-color="#f5d517"/><stop offset="0.667" stop-color="#f5cc13"/><stop offset="0.694" stop-color="#f3c017"/><stop offset="0.722" stop-color="#f2b31d"/><stop offset="0.750" stop-color="#f1a524"/><stop offset="0.778" stop-color="#ef9829"/><stop offset="0.806" stop-color="#ee8a2c"/><stop offset="0.833" stop-color="#ec7d2f"/><stop offset="0.861" stop-color="#ea6e31"/><stop offset="0.889" stop-color="#e96033"/><stop offset="0.917" stop-color="#e75333"/><stop offset="0.944" stop-color="#e54834"/><stop offset="0.972" stop-color="#e44133"/><stop offset="1.000" stop-color="#e33c33"/></linearGradient><linearGradient id="r299" gradientUnits="userSpaceOnUse" x1="506" y1="0" x2="722" y2="0"><stop offset="0.000" stop-color="#5db656"/><stop offset="0.028" stop-color="#5db655"/><stop offset="0.056" stop-color="#5db654"/><stop offset="0.083" stop-color="#5eb653"/><stop offset="0.111" stop-color="#5eb752"/><stop offset="0.139" stop-color="#5fb751"/><stop offset="0.167" stop-color="#60b851"/><stop offset="0.194" stop-color="#62b952"/><stop offset="0.222" stop-color="#65ba53"/><stop offset="0.250" stop-color="#68bc54"/><stop offset="0.278" stop-color="#6dbe56"/><stop offset="0.306" stop-color="#74c159"/><stop offset="0.333" stop-color="#7fc55e"/><stop offset="0.361" stop-color="#8cca65"/><stop offset="0.389" stop-color="#9cd06d"/><stop offset="0.417" stop-color="#b0d879"/><stop offset="0.444" stop-color="#c9e185"/><stop offset="0.472" stop-color="#dee78c"/><stop offset="0.500" stop-color="#e9e98a"/><stop offset="0.528" stop-color="#efe980"/><stop offset="0.556" stop-color="#f2e66c"/><stop offset="0.583" stop-color="#f4e14d"/><stop offset="0.611" stop-color="#f5db2f"/><stop offset="0.639" stop-color="#f5d31d"/><stop offset="0.667" stop-color="#f4c818"/><stop offset="0.694" stop-color="#f3ba1b"/><stop offset="0.722" stop-color="#f1ac21"/><stop offset="0.750" stop-color="#f09e26"/><stop offset="0.778" stop-color="#ee912b"/><stop offset="0.806" stop-color="#ed832e"/><stop offset="0.833" stop-color="#eb7531"/><stop offset="0.861" stop-color="#e96732"/><stop offset="0.889" stop-color="#e85933"/><stop offset="0.917" stop-color="#e64d34"/><stop offset="0.944" stop-color="#e54434"/><stop offset="0.972" stop-color="#e43f33"/><stop offset="1.000" stop-color="#e33a33"/></linearGradient><linearGradient id="r302" gradientUnits="userSpaceOnUse" x1="506" y1="0" x2="722" y2="0"><stop offset="0.000" stop-color="#5bb55f"/><stop offset="0.028" stop-color="#5cb65d"/><stop offset="0.056" stop-color="#5cb65b"/><stop offset="0.083" stop-color="#5db659"/><stop offset="0.111" stop-color="#5eb757"/><stop offset="0.139" stop-color="#5fb755"/><stop offset="0.167" stop-color="#61b854"/><stop offset="0.194" stop-color="#63b954"/><stop offset="0.222" stop-color="#66bb56"/><stop offset="0.250" stop-color="#6bbd57"/><stop offset="0.278" stop-color="#71bf5a"/><stop offset="0.306" stop-color="#7ac35f"/><stop offset="0.333" stop-color="#86c867"/><stop offset="0.361" stop-color="#95ce70"/><stop offset="0.389" stop-color="#a5d47b"/><stop offset="0.417" stop-color="#b7dc86"/><stop offset="0.444" stop-color="#cee492"/><stop offset="0.472" stop-color="#e2e998"/><stop offset="0.500" stop-color="#edeb98"/><stop offset="0.528" stop-color="#f1ea8f"/><stop offset="0.556" stop-color="#f4e77d"/><stop offset="0.583" stop-color="#f5e25e"/><stop offset="0.611" stop-color="#f6da3c"/><stop offset="0.639" stop-color="#f5d025"/><stop offset="0.667" stop-color="#f4c31c"/><stop offset="0.694" stop-color="#f2b41f"/><stop offset="0.722" stop-color="#f1a524"/><stop offset="0.750" stop-color="#ef9729"/><stop offset="0.778" stop-color="#ed892d"/><stop offset="0.806" stop-color="#ec7b30"/><stop offset="0.833" stop-color="#ea6d32"/><stop offset="0.861" stop-color="#e96033"/><stop offset="0.889" stop-color="#e75333"/><stop offset="0.917" stop-color="#e64934"/><stop offset="0.944" stop-color="#e44133"/><stop offset="0.972" stop-color="#e33c33"/><stop offset="1.000" stop-color="#e23832"/></linearGradient><linearGradient id="r305" gradientUnits="userSpaceOnUse" x1="506" y1="0" x2="722" y2="0"><stop offset="0.000" stop-color="#5ab56c"/><stop offset="0.028" stop-color="#5ab569"/><stop offset="0.056" stop-color="#5bb567"/><stop offset="0.083" stop-color="#5cb663"/><stop offset="0.111" stop-color="#5eb65f"/><stop offset="0.139" stop-color="#5fb75b"/><stop offset="0.167" stop-color="#62b859"/><stop offset="0.194" stop-color="#65ba59"/><stop offset="0.222" stop-color="#69bc5a"/><stop offset="0.250" stop-color="#6fbe5d"/><stop offset="0.278" stop-color="#77c262"/><stop offset="0.306" stop-color="#82c76a"/><stop offset="0.333" stop-color="#91cd74"/><stop offset="0.361" stop-color="#a1d480"/><stop offset="0.389" stop-color="#b1da8d"/><stop offset="0.417" stop-color="#c2e199"/><stop offset="0.444" stop-color="#d6e8a3"/><stop offset="0.472" stop-color="#e7eca8"/><stop offset="0.500" stop-color="#f0eea7"/><stop offset="0.528" stop-color="#f4ec9f"/><stop offset="0.556" stop-color="#f6e98f"/><stop offset="0.583" stop-color="#f6e372"/><stop offset="0.611" stop-color="#f6da4d"/><stop offset="0.639" stop-color="#f5cd2e"/><stop offset="0.667" stop-color="#f3bd22"/><stop offset="0.694" stop-color="#f1ad22"/><stop offset="0.722" stop-color="#f09e27"/><stop offset="0.750" stop-color="#ee8f2b"/><stop offset="0.778" stop-color="#ec812e"/><stop offset="0.806" stop-color="#eb7431"/><stop offset="0.833" stop-color="#e96632"/><stop offset="0.861" stop-color="#e85933"/><stop offset="0.889" stop-color="#e64e34"/><stop offset="0.917" stop-color="#e54534"/><stop offset="0.944" stop-color="#e43f33"/><stop offset="0.972" stop-color="#e33a33"/><stop offset="1.000" stop-color="#e13631"/></linearGradient><linearGradient id="r308" gradientUnits="userSpaceOnUse" x1="506" y1="0" x2="722" y2="0"><stop offset="0.000" stop-color="#58b57a"/><stop offset="0.028" stop-color="#59b578"/><stop offset="0.056" stop-color="#59b575"/><stop offset="0.083" stop-color="#5bb570"/><stop offset="0.111" stop-color="#5db669"/><stop offset="0.139" stop-color="#60b763"/><stop offset="0.167" stop-color="#63b960"/><stop offset="0.194" stop-color="#67ba60"/><stop offset="0.222" stop-color="#6dbd62"/><stop offset="0.250" stop-color="#74c166"/><stop offset="0.278" stop-color="#7fc56c"/><stop offset="0.306" stop-color="#8dcc77"/><stop offset="0.333" stop-color="#9fd385"/><stop offset="0.361" stop-color="#afda94"/><stop offset="0.389" stop-color="#bfe1a1"/><stop offset="0.417" stop-color="#cee7ad"/><stop offset="0.444" stop-color="#dfedb7"/><stop offset="0.472" stop-color="#edf0ba"/><stop offset="0.500" stop-color="#f4f0b7"/><stop offset="0.528" stop-color="#f6eeaf"/><stop offset="0.556" stop-color="#f7eaa1"/><stop offset="0.583" stop-color="#f7e487"/><stop offset="0.611" stop-color="#f7da60"/><stop offset="0.639" stop-color="#f5ca3a"/><stop offset="0.667" stop-color="#f3b728"/><stop offset="0.694" stop-color="#f1a526"/><stop offset="0.722" stop-color="#ef9629"/><stop offset="0.750" stop-color="#ed872d"/><stop offset="0.778" stop-color="#ec7a30"/><stop offset="0.806" stop-color="#ea6c32"/><stop offset="0.833" stop-color="#e86033"/><stop offset="0.861" stop-color="#e75333"/><stop offset="0.889" stop-color="#e64934"/><stop offset="0.917" stop-color="#e44233"/><stop offset="0.944" stop-color="#e33c33"/><stop offset="0.972" stop-color="#e23832"/><stop offset="1.000" stop-color="#e13531"/></linearGradient><linearGradient id="r311" gradientUnits="userSpaceOnUse" x1="506" y1="0" x2="722" y2="0"><stop offset="0.000" stop-color="#57b487"/><stop offset="0.028" stop-color="#57b486"/><stop offset="0.056" stop-color="#58b583"/><stop offset="0.083" stop-color="#59b57e"/><stop offset="0.111" stop-color="#5cb676"/><stop offset="0.139" stop-color="#60b76f"/><stop offset="0.167" stop-color="#65b96b"/><stop offset="0.194" stop-color="#6bbc6b"/><stop offset="0.222" stop-color="#72bf6d"/><stop offset="0.250" stop-color="#7cc471"/><stop offset="0.278" stop-color="#89ca7a"/><stop offset="0.306" stop-color="#9bd289"/><stop offset="0.333" stop-color="#aeda99"/><stop offset="0.361" stop-color="#bee1a8"/><stop offset="0.389" stop-color="#cde7b5"/><stop offset="0.417" stop-color="#daedc1"/><stop offset="0.444" stop-color="#e8f1ca"/><stop offset="0.472" stop-color="#f2f3cc"/><stop offset="0.500" stop-color="#f7f2c7"/><stop offset="0.528" stop-color="#f8efbe"/><stop offset="0.556" stop-color="#f8eab0"/><stop offset="0.583" stop-color="#f8e39a"/><stop offset="0.611" stop-color="#f7d974"/><stop offset="0.639" stop-color="#f5c648"/><stop offset="0.667" stop-color="#f2b02e"/><stop offset="0.694" stop-color="#f09d2a"/><stop offset="0.722" stop-color="#ee8d2c"/><stop offset="0.750" stop-color="#ec7f2f"/><stop offset="0.778" stop-color="#eb7231"/><stop offset="0.806" stop-color="#e96632"/><stop offset="0.833" stop-color="#e85933"/><stop offset="0.861" stop-color="#e64e34"/><stop offset="0.889" stop-color="#e54534"/><stop offset="0.917" stop-color="#e43f33"/><stop offset="0.944" stop-color="#e33a33"/><stop offset="0.972" stop-color="#e23631"/><stop offset="1.000" stop-color="#e03330"/></linearGradient><linearGradient id="r314" gradientUnits="userSpaceOnUse" x1="506" y1="0" x2="722" y2="0"><stop offset="0.000" stop-color="#56b491"/><stop offset="0.028" stop-color="#56b490"/><stop offset="0.056" stop-color="#57b48f"/><stop offset="0.083" stop-color="#59b58a"/><stop offset="0.111" stop-color="#5cb684"/><stop offset="0.139" stop-color="#60b77d"/><stop offset="0.167" stop-color="#67ba78"/><stop offset="0.194" stop-color="#6fbd78"/><stop offset="0.222" stop-color="#79c27b"/><stop offset="0.250" stop-color="#86c881"/><stop offset="0.278" stop-color="#96cf8b"/><stop offset="0.306" stop-color="#a9d89b"/><stop offset="0.333" stop-color="#bce0ac"/><stop offset="0.361" stop-color="#cce7ba"/><stop offset="0.389" stop-color="#d8edc7"/><stop offset="0.417" stop-color="#e4f2d1"/><stop offset="0.444" stop-color="#eef5d9"/><stop offset="0.472" stop-color="#f6f6da"/><stop offset="0.500" stop-color="#f9f4d4"/><stop offset="0.528" stop-color="#f9efc9"/><stop offset="0.556" stop-color="#f9e9bc"/><stop offset="0.583" stop-color="#f8e2a8"/><stop offset="0.611" stop-color="#f7d687"/><stop offset="0.639" stop-color="#f4c258"/><stop offset="0.667" stop-color="#f1a936"/><stop offset="0.694" stop-color="#ef942d"/><stop offset="0.722" stop-color="#ed842e"/><stop offset="0.750" stop-color="#eb7730"/><stop offset="0.778" stop-color="#ea6b32"/><stop offset="0.806" stop-color="#e85f33"/><stop offset="0.833" stop-color="#e75434"/><stop offset="0.861" stop-color="#e64a34"/><stop offset="0.889" stop-color="#e44233"/><stop offset="0.917" stop-color="#e33d33"/><stop offset="0.944" stop-color="#e23832"/><stop offset="0.972" stop-color="#e13531"/><stop offset="1.000" stop-color="#e03230"/></linearGradient><linearGradient id="r317" gradientUnits="userSpaceOnUse" x1="506" y1="0" x2="722" y2="0"><stop offset="0.000" stop-color="#55b49a"/><stop offset="0.028" stop-color="#56b499"/><stop offset="0.056" stop-color="#56b498"/><stop offset="0.083" stop-color="#58b595"/><stop offset="0.111" stop-color="#5bb690"/><stop offset="0.139" stop-color="#61b78b"/><stop offset="0.167" stop-color="#69ba87"/><stop offset="0.194" stop-color="#74bf88"/><stop offset="0.222" stop-color="#81c58b"/><stop offset="0.250" stop-color="#90cc92"/><stop offset="0.278" stop-color="#a3d59e"/><stop offset="0.306" stop-color="#b6dead"/><stop offset="0.333" stop-color="#c8e6bd"/><stop offset="0.361" stop-color="#d6ecca"/><stop offset="0.389" stop-color="#e1f1d4"/><stop offset="0.417" stop-color="#ebf5de"/><stop offset="0.444" stop-color="#f3f8e4"/><stop offset="0.472" stop-color="#f9f7e4"/><stop offset="0.500" stop-color="#fbf4dd"/><stop offset="0.528" stop-color="#faeed1"/><stop offset="0.556" stop-color="#f9e7c2"/><stop offset="0.583" stop-color="#f8deb0"/><stop offset="0.611" stop-color="#f7d295"/><stop offset="0.639" stop-color="#f4bd68"/><stop offset="0.667" stop-color="#f0a03e"/><stop offset="0.694" stop-color="#ed8a31"/><stop offset="0.722" stop-color="#ec7b30"/><stop offset="0.750" stop-color="#ea6f32"/><stop offset="0.778" stop-color="#e96433"/><stop offset="0.806" stop-color="#e85933"/><stop offset="0.833" stop-color="#e64f34"/><stop offset="0.861" stop-color="#e54634"/><stop offset="0.889" stop-color="#e43f33"/><stop offset="0.917" stop-color="#e33a32"/><stop offset="0.944" stop-color="#e23731"/><stop offset="0.972" stop-color="#e03330"/><stop offset="1.000" stop-color="#df312f"/></linearGradient><linearGradient id="r320" gradientUnits="userSpaceOnUse" x1="506" y1="0" x2="722" y2="0"><stop offset="0.000" stop-color="#55b4a2"/><stop offset="0.028" stop-color="#55b4a2"/><stop offset="0.056" stop-color="#56b4a1"/><stop offset="0.083" stop-color="#58b59f"/><stop offset="0.111" stop-color="#5bb69c"/><stop offset="0.139" stop-color="#61b798"/><stop offset="0.167" stop-color="#6bbb96"/><stop offset="0.194" stop-color="#78c097"/><stop offset="0.222" stop-color="#89c89c"/><stop offset="0.250" stop-color="#9bd1a4"/><stop offset="0.278" stop-color="#afdab0"/><stop offset="0.306" stop-color="#c2e3be"/><stop offset="0.333" stop-color="#d2eacb"/><stop offset="0.361" stop-color="#def0d6"/><stop offset="0.389" stop-color="#e8f4df"/><stop offset="0.417" stop-color="#f0f7e7"/><stop offset="0.444" stop-color="#f7f9ec"/><stop offset="0.472" stop-color="#fbf8ea"/><stop offset="0.500" stop-color="#fbf4e2"/><stop offset="0.528" stop-color="#faedd5"/><stop offset="0.556" stop-color="#f9e3c5"/><stop offset="0.583" stop-color="#f8d7b3"/><stop offset="0.611" stop-color="#f6ca9c"/><stop offset="0.639" stop-color="#f3b475"/><stop offset="0.667" stop-color="#ef9447"/><stop offset="0.694" stop-color="#ec7d34"/><stop offset="0.722" stop-color="#ea7032"/><stop offset="0.750" stop-color="#e96633"/><stop offset="0.778" stop-color="#e85d33"/><stop offset="0.806" stop-color="#e75334"/><stop offset="0.833" stop-color="#e64a34"/><stop offset="0.861" stop-color="#e44233"/><stop offset="0.889" stop-color="#e33d33"/><stop offset="0.917" stop-color="#e23832"/><stop offset="0.944" stop-color="#e13531"/><stop offset="0.972" stop-color="#e03230"/><stop offset="1.000" stop-color="#df302f"/></linearGradient><linearGradient id="r323" gradientUnits="userSpaceOnUse" x1="506" y1="0" x2="722" y2="0"><stop offset="0.000" stop-color="#55b4aa"/><stop offset="0.028" stop-color="#55b4aa"/><stop offset="0.056" stop-color="#56b4a9"/><stop offset="0.083" stop-color="#58b5a8"/><stop offset="0.111" stop-color="#5bb5a6"/><stop offset="0.139" stop-color="#61b7a5"/><stop offset="0.167" stop-color="#6cbba4"/><stop offset="0.194" stop-color="#7cc2a5"/><stop offset="0.222" stop-color="#90cbab"/><stop offset="0.250" stop-color="#a6d5b5"/><stop offset="0.278" stop-color="#badec0"/><stop offset="0.306" stop-color="#cce7cc"/><stop offset="0.333" stop-color="#daeed7"/><stop offset="0.361" stop-color="#e5f3e0"/><stop offset="0.389" stop-color="#edf6e8"/><stop offset="0.417" stop-color="#f4f9ee"/><stop offset="0.444" stop-color="#f9faf1"/><stop offset="0.472" stop-color="#fcf8ee"/><stop offset="0.500" stop-color="#fcf3e6"/><stop offset="0.528" stop-color="#faead7"/><stop offset="0.556" stop-color="#f8dcc4"/><stop offset="0.583" stop-color="#f7ceb1"/><stop offset="0.611" stop-color="#f5be9d"/><stop offset="0.639" stop-color="#f2a67b"/><stop offset="0.667" stop-color="#ed844f"/><stop offset="0.694" stop-color="#ea6e38"/><stop offset="0.722" stop-color="#e96434"/><stop offset="0.750" stop-color="#e85d34"/><stop offset="0.778" stop-color="#e75634"/><stop offset="0.806" stop-color="#e64e34"/><stop offset="0.833" stop-color="#e54634"/><stop offset="0.861" stop-color="#e43f33"/><stop offset="0.889" stop-color="#e33a32"/><stop offset="0.917" stop-color="#e23731"/><stop offset="0.944" stop-color="#e03330"/><stop offset="0.972" stop-color="#df312f"/><stop offset="1.000" stop-color="#df302f"/></linearGradient><linearGradient id="r326" gradientUnits="userSpaceOnUse" x1="506" y1="0" x2="722" y2="0"><stop offset="0.000" stop-color="#55b4b2"/><stop offset="0.028" stop-color="#55b4b2"/><stop offset="0.056" stop-color="#56b4b1"/><stop offset="0.083" stop-color="#58b5b1"/><stop offset="0.111" stop-color="#5bb5b0"/><stop offset="0.139" stop-color="#61b7b0"/><stop offset="0.167" stop-color="#6cbbaf"/><stop offset="0.194" stop-color="#7ec3b1"/><stop offset="0.222" stop-color="#97cdb9"/><stop offset="0.250" stop-color="#afd8c4"/><stop offset="0.278" stop-color="#c3e2cf"/><stop offset="0.306" stop-color="#d4ead9"/><stop offset="0.333" stop-color="#e0f0e1"/><stop offset="0.361" stop-color="#eaf5e8"/><stop offset="0.389" stop-color="#f1f8ee"/><stop offset="0.417" stop-color="#f7faf3"/><stop offset="0.444" stop-color="#fbfaf4"/><stop offset="0.472" stop-color="#fcf8f1"/><stop offset="0.500" stop-color="#fcf1e7"/><stop offset="0.528" stop-color="#fae4d6"/><stop offset="0.556" stop-color="#f8d3c0"/><stop offset="0.583" stop-color="#f5c1ab"/><stop offset="0.611" stop-color="#f3af97"/><stop offset="0.639" stop-color="#f0957b"/><stop offset="0.667" stop-color="#eb7253"/><stop offset="0.694" stop-color="#e95e3b"/><stop offset="0.722" stop-color="#e85836"/><stop offset="0.750" stop-color="#e75435"/><stop offset="0.778" stop-color="#e75034"/><stop offset="0.806" stop-color="#e64934"/><stop offset="0.833" stop-color="#e44234"/><stop offset="0.861" stop-color="#e33d33"/><stop offset="0.889" stop-color="#e23832"/><stop offset="0.917" stop-color="#e13531"/><stop offset="0.944" stop-color="#e03230"/><stop offset="0.972" stop-color="#df302f"/><stop offset="1.000" stop-color="#df2f2f"/></linearGradient><linearGradient id="r329" gradientUnits="userSpaceOnUse" x1="506" y1="0" x2="722" y2="0"><stop offset="0.000" stop-color="#55b4ba"/><stop offset="0.028" stop-color="#55b4b9"/><stop offset="0.056" stop-color="#56b4b9"/><stop offset="0.083" stop-color="#58b4b9"/><stop offset="0.111" stop-color="#5bb5ba"/><stop offset="0.139" stop-color="#61b7ba"/><stop offset="0.167" stop-color="#6cbbba"/><stop offset="0.194" stop-color="#80c3bd"/><stop offset="0.222" stop-color="#9ccfc5"/><stop offset="0.250" stop-color="#b6dbd1"/><stop offset="0.278" stop-color="#cbe5db"/><stop offset="0.306" stop-color="#daede3"/><stop offset="0.333" stop-color="#e5f2e9"/><stop offset="0.361" stop-color="#edf6ef"/><stop offset="0.389" stop-color="#f4f9f3"/><stop offset="0.417" stop-color="#f8faf6"/><stop offset="0.444" stop-color="#fbf9f6"/><stop offset="0.472" stop-color="#fcf6f2"/><stop offset="0.500" stop-color="#fbede7"/><stop offset="0.528" stop-color="#f9ddd4"/><stop offset="0.556" stop-color="#f6c8bb"/><stop offset="0.583" stop-color="#f4b3a5"/><stop offset="0.611" stop-color="#f19e90"/><stop offset="0.639" stop-color="#ee8275"/><stop offset="0.667" stop-color="#e96253"/><stop offset="0.694" stop-color="#e7513e"/><stop offset="0.722" stop-color="#e74d37"/><stop offset="0.750" stop-color="#e64d35"/><stop offset="0.778" stop-color="#e64a35"/><stop offset="0.806" stop-color="#e54534"/><stop offset="0.833" stop-color="#e43f33"/><stop offset="0.861" stop-color="#e33a32"/><stop offset="0.889" stop-color="#e23731"/><stop offset="0.917" stop-color="#e13430"/><stop offset="0.944" stop-color="#e03130"/><stop offset="0.972" stop-color="#df302f"/><stop offset="1.000" stop-color="#de2f2e"/></linearGradient><linearGradient id="r332" gradientUnits="userSpaceOnUse" x1="506" y1="0" x2="722" y2="0"><stop offset="0.000" stop-color="#55b4c0"/><stop offset="0.028" stop-color="#55b4c0"/><stop offset="0.056" stop-color="#55b4c1"/><stop offset="0.083" stop-color="#57b4c2"/><stop offset="0.111" stop-color="#5ab5c3"/><stop offset="0.139" stop-color="#60b6c4"/><stop offset="0.167" stop-color="#6abac4"/><stop offset="0.194" stop-color="#80c3c7"/><stop offset="0.222" stop-color="#9fd1d0"/><stop offset="0.250" stop-color="#bcdedb"/><stop offset="0.278" stop-color="#d0e7e4"/><stop offset="0.306" stop-color="#deeeea"/><stop offset="0.333" stop-color="#e9f3f0"/><stop offset="0.361" stop-color="#f0f7f4"/><stop offset="0.389" stop-color="#f5f9f7"/><stop offset="0.417" stop-color="#f9f9f8"/><stop offset="0.444" stop-color="#fbf8f7"/><stop offset="0.472" stop-color="#fcf2f2"/><stop offset="0.500" stop-color="#fae7e6"/><stop offset="0.528" stop-color="#f8d4d1"/><stop offset="0.556" stop-color="#f5bcb7"/><stop offset="0.583" stop-color="#f2a59e"/><stop offset="0.611" stop-color="#ef8e88"/><stop offset="0.639" stop-color="#ec736f"/><stop offset="0.667" stop-color="#e85652"/><stop offset="0.694" stop-color="#e6473f"/><stop offset="0.722" stop-color="#e64538"/><stop offset="0.750" stop-color="#e64636"/><stop offset="0.778" stop-color="#e54535"/><stop offset="0.806" stop-color="#e44234"/><stop offset="0.833" stop-color="#e33d33"/><stop offset="0.861" stop-color="#e23832"/><stop offset="0.889" stop-color="#e13531"/><stop offset="0.917" stop-color="#e03330"/><stop offset="0.944" stop-color="#df312f"/><stop offset="0.972" stop-color="#df2f2f"/><stop offset="1.000" stop-color="#de2f2e"/></linearGradient><linearGradient id="r335" gradientUnits="userSpaceOnUse" x1="506" y1="0" x2="722" y2="0"><stop offset="0.000" stop-color="#54b4c6"/><stop offset="0.028" stop-color="#54b3c6"/><stop offset="0.056" stop-color="#55b3c8"/><stop offset="0.083" stop-color="#56b3c9"/><stop offset="0.111" stop-color="#59b4cb"/><stop offset="0.139" stop-color="#5eb5cc"/><stop offset="0.167" stop-color="#68b9cd"/><stop offset="0.194" stop-color="#7fc2d0"/><stop offset="0.222" stop-color="#a1d1d9"/><stop offset="0.250" stop-color="#bfdfe3"/><stop offset="0.278" stop-color="#d3e8eb"/><stop offset="0.306" stop-color="#e1eff0"/><stop offset="0.333" stop-color="#ebf4f4"/><stop offset="0.361" stop-color="#f2f7f7"/><stop offset="0.389" stop-color="#f6f8f9"/><stop offset="0.417" stop-color="#f9f8f9"/><stop offset="0.444" stop-color="#fbf5f7"/><stop offset="0.472" stop-color="#fbeef1"/><stop offset="0.500" stop-color="#f9e1e4"/><stop offset="0.528" stop-color="#f6cbce"/><stop offset="0.556" stop-color="#f3b2b4"/><stop offset="0.583" stop-color="#f09a9a"/><stop offset="0.611" stop-color="#ed8283"/><stop offset="0.639" stop-color="#ea676a"/><stop offset="0.667" stop-color="#e74e51"/><stop offset="0.694" stop-color="#e54140"/><stop offset="0.722" stop-color="#e53f39"/><stop offset="0.750" stop-color="#e54137"/><stop offset="0.778" stop-color="#e54135"/><stop offset="0.806" stop-color="#e43e34"/><stop offset="0.833" stop-color="#e33a33"/><stop offset="0.861" stop-color="#e23732"/><stop offset="0.889" stop-color="#e13431"/><stop offset="0.917" stop-color="#e03230"/><stop offset="0.944" stop-color="#df302f"/><stop offset="0.972" stop-color="#df2f2f"/><stop offset="1.000" stop-color="#de2e2e"/></linearGradient><linearGradient id="r338" gradientUnits="userSpaceOnUse" x1="506" y1="0" x2="722" y2="0"><stop offset="0.000" stop-color="#53b3ca"/><stop offset="0.028" stop-color="#53b3cc"/><stop offset="0.056" stop-color="#53b2ce"/><stop offset="0.083" stop-color="#55b3d0"/><stop offset="0.111" stop-color="#58b3d2"/><stop offset="0.139" stop-color="#5db4d3"/><stop offset="0.167" stop-color="#66b8d4"/><stop offset="0.194" stop-color="#7dc1d8"/><stop offset="0.222" stop-color="#a0d0e0"/><stop offset="0.250" stop-color="#bedee9"/><stop offset="0.278" stop-color="#d3e8ef"/><stop offset="0.306" stop-color="#e2eff4"/><stop offset="0.333" stop-color="#ecf4f7"/><stop offset="0.361" stop-color="#f2f6f9"/><stop offset="0.389" stop-color="#f6f7fa"/><stop offset="0.417" stop-color="#f9f6f9"/><stop offset="0.444" stop-color="#faf1f6"/><stop offset="0.472" stop-color="#f9e9ee"/><stop offset="0.500" stop-color="#f8dae1"/><stop offset="0.528" stop-color="#f5c3cc"/><stop offset="0.556" stop-color="#f2aab2"/><stop offset="0.583" stop-color="#ef9198"/><stop offset="0.611" stop-color="#ec7880"/><stop offset="0.639" stop-color="#e95e67"/><stop offset="0.667" stop-color="#e64950"/><stop offset="0.694" stop-color="#e53d41"/><stop offset="0.722" stop-color="#e53b3b"/><stop offset="0.750" stop-color="#e53d38"/><stop offset="0.778" stop-color="#e43e36"/><stop offset="0.806" stop-color="#e33c34"/><stop offset="0.833" stop-color="#e23832"/><stop offset="0.861" stop-color="#e13531"/><stop offset="0.889" stop-color="#e03330"/><stop offset="0.917" stop-color="#df312f"/><stop offset="0.944" stop-color="#df302f"/><stop offset="0.972" stop-color="#de2f2e"/><stop offset="1.000" stop-color="#de2e2e"/></linearGradient><linearGradient id="r341" gradientUnits="userSpaceOnUse" x1="506" y1="0" x2="722" y2="0"><stop offset="0.000" stop-color="#51b2cf"/><stop offset="0.028" stop-color="#51b2d1"/><stop offset="0.056" stop-color="#51b1d3"/><stop offset="0.083" stop-color="#52b1d6"/><stop offset="0.111" stop-color="#56b2d7"/><stop offset="0.139" stop-color="#5bb3d8"/><stop offset="0.167" stop-color="#65b6d9"/><stop offset="0.194" stop-color="#7bbfdd"/><stop offset="0.222" stop-color="#9ccee5"/><stop offset="0.250" stop-color="#bbdcec"/><stop offset="0.278" stop-color="#d1e6f2"/><stop offset="0.306" stop-color="#e0eef6"/><stop offset="0.333" stop-color="#ebf3f8"/><stop offset="0.361" stop-color="#f2f5fa"/><stop offset="0.389" stop-color="#f5f5fa"/><stop offset="0.417" stop-color="#f7f2f8"/><stop offset="0.444" stop-color="#f8ecf3"/><stop offset="0.472" stop-color="#f7e2eb"/><stop offset="0.500" stop-color="#f6d2de"/><stop offset="0.528" stop-color="#f3bcc9"/><stop offset="0.556" stop-color="#f1a3b1"/><stop offset="0.583" stop-color="#ee8a98"/><stop offset="0.611" stop-color="#eb717e"/><stop offset="0.639" stop-color="#e85866"/><stop offset="0.667" stop-color="#e64551"/><stop offset="0.694" stop-color="#e53b43"/><stop offset="0.722" stop-color="#e4393c"/><stop offset="0.750" stop-color="#e43a38"/><stop offset="0.778" stop-color="#e43b36"/><stop offset="0.806" stop-color="#e33a33"/><stop offset="0.833" stop-color="#e23732"/><stop offset="0.861" stop-color="#e13431"/><stop offset="0.889" stop-color="#e03230"/><stop offset="0.917" stop-color="#df302f"/><stop offset="0.944" stop-color="#df2f2f"/><stop offset="0.972" stop-color="#de2f2e"/><stop offset="1.000" stop-color="#de2e2e"/></linearGradient><linearGradient id="r344" gradientUnits="userSpaceOnUse" x1="506" y1="0" x2="722" y2="0"><stop offset="0.000" stop-color="#4fb1d3"/><stop offset="0.028" stop-color="#4eb0d5"/><stop offset="0.056" stop-color="#4eb0d8"/><stop offset="0.083" stop-color="#50b0d9"/><stop offset="0.111" stop-color="#53b1da"/><stop offset="0.139" stop-color="#59b2db"/><stop offset="0.167" stop-color="#63b6dd"/><stop offset="0.194" stop-color="#78bee1"/><stop offset="0.222" stop-color="#98cce8"/><stop offset="0.250" stop-color="#b6d9ee"/><stop offset="0.278" stop-color="#cce4f3"/><stop offset="0.306" stop-color="#ddecf6"/><stop offset="0.333" stop-color="#e9f1f9"/><stop offset="0.361" stop-color="#f0f3fa"/><stop offset="0.389" stop-color="#f4f2f9"/><stop offset="0.417" stop-color="#f5edf5"/><stop offset="0.444" stop-color="#f5e5f0"/><stop offset="0.472" stop-color="#f4dbe7"/><stop offset="0.500" stop-color="#f3cbda"/><stop offset="0.528" stop-color="#f2b6c7"/><stop offset="0.556" stop-color="#ef9eb0"/><stop offset="0.583" stop-color="#ed8497"/><stop offset="0.611" stop-color="#ea6b7e"/><stop offset="0.639" stop-color="#e75466"/><stop offset="0.667" stop-color="#e54352"/><stop offset="0.694" stop-color="#e43a45"/><stop offset="0.722" stop-color="#e4383d"/><stop offset="0.750" stop-color="#e43839"/><stop offset="0.778" stop-color="#e43936"/><stop offset="0.806" stop-color="#e23833"/><stop offset="0.833" stop-color="#e13531"/><stop offset="0.861" stop-color="#e03330"/><stop offset="0.889" stop-color="#e03130"/><stop offset="0.917" stop-color="#df302f"/><stop offset="0.944" stop-color="#de2f2e"/><stop offset="0.972" stop-color="#de2e2e"/><stop offset="1.000" stop-color="#de2e2e"/></linearGradient><linearGradient id="r347" gradientUnits="userSpaceOnUse" x1="506" y1="0" x2="722" y2="0"><stop offset="0.000" stop-color="#4cb0d7"/><stop offset="0.028" stop-color="#4bafd9"/><stop offset="0.056" stop-color="#4cafda"/><stop offset="0.083" stop-color="#4dafdb"/><stop offset="0.111" stop-color="#50b0dc"/><stop offset="0.139" stop-color="#57b1dd"/><stop offset="0.167" stop-color="#62b5df"/><stop offset="0.194" stop-color="#76bde3"/><stop offset="0.222" stop-color="#93c9e9"/><stop offset="0.250" stop-color="#afd6ee"/><stop offset="0.278" stop-color="#c6e0f3"/><stop offset="0.306" stop-color="#d8e8f6"/><stop offset="0.333" stop-color="#e6eef8"/><stop offset="0.361" stop-color="#edeff8"/><stop offset="0.389" stop-color="#f0ecf6"/><stop offset="0.417" stop-color="#f0e4f1"/><stop offset="0.444" stop-color="#f0dbeb"/><stop offset="0.472" stop-color="#f1d2e3"/><stop offset="0.500" stop-color="#f1c4d7"/><stop offset="0.528" stop-color="#f0b0c5"/><stop offset="0.556" stop-color="#ee98af"/><stop offset="0.583" stop-color="#eb7e96"/><stop offset="0.611" stop-color="#e9657e"/><stop offset="0.639" stop-color="#e65067"/><stop offset="0.667" stop-color="#e54155"/><stop offset="0.694" stop-color="#e43a48"/><stop offset="0.722" stop-color="#e4373f"/><stop offset="0.750" stop-color="#e4373a"/><stop offset="0.778" stop-color="#e33836"/><stop offset="0.806" stop-color="#e23633"/><stop offset="0.833" stop-color="#e13431"/><stop offset="0.861" stop-color="#e03230"/><stop offset="0.889" stop-color="#df312f"/><stop offset="0.917" stop-color="#df2f2f"/><stop offset="0.944" stop-color="#de2f2e"/><stop offset="0.972" stop-color="#de2e2e"/><stop offset="1.000" stop-color="#de2e2e"/></linearGradient><linearGradient id="r350" gradientUnits="userSpaceOnUse" x1="506" y1="0" x2="722" y2="0"><stop offset="0.000" stop-color="#4aafda"/><stop offset="0.028" stop-color="#49aedb"/><stop offset="0.056" stop-color="#49aedc"/><stop offset="0.083" stop-color="#4aaedd"/><stop offset="0.111" stop-color="#4dafdd"/><stop offset="0.139" stop-color="#54b0de"/><stop offset="0.167" stop-color="#5fb4e0"/><stop offset="0.194" stop-color="#73bce4"/><stop offset="0.222" stop-color="#8dc6e9"/><stop offset="0.250" stop-color="#a7d2ee"/><stop offset="0.278" stop-color="#bddcf1"/><stop offset="0.306" stop-color="#d1e4f5"/><stop offset="0.333" stop-color="#dfe9f6"/><stop offset="0.361" stop-color="#e7e8f5"/><stop offset="0.389" stop-color="#e9e1f1"/><stop offset="0.417" stop-color="#e9d7eb"/><stop offset="0.444" stop-color="#eacfe5"/><stop offset="0.472" stop-color="#ecc8de"/><stop offset="0.500" stop-color="#edbcd4"/><stop offset="0.528" stop-color="#eeaac3"/><stop offset="0.556" stop-color="#ec91ad"/><stop offset="0.583" stop-color="#ea7795"/><stop offset="0.611" stop-color="#e75f7d"/><stop offset="0.639" stop-color="#e54c68"/><stop offset="0.667" stop-color="#e43f58"/><stop offset="0.694" stop-color="#e4394b"/><stop offset="0.722" stop-color="#e43642"/><stop offset="0.750" stop-color="#e4363c"/><stop offset="0.778" stop-color="#e33736"/><stop offset="0.806" stop-color="#e23532"/><stop offset="0.833" stop-color="#e03331"/><stop offset="0.861" stop-color="#e03130"/><stop offset="0.889" stop-color="#df302f"/><stop offset="0.917" stop-color="#df2f2f"/><stop offset="0.944" stop-color="#de2f2e"/><stop offset="0.972" stop-color="#de2e2e"/><stop offset="1.000" stop-color="#de2e2e"/></linearGradient><linearGradient id="r353" gradientUnits="userSpaceOnUse" x1="506" y1="0" x2="722" y2="0"><stop offset="0.000" stop-color="#48aedc"/><stop offset="0.028" stop-color="#47aedd"/><stop offset="0.056" stop-color="#47addd"/><stop offset="0.083" stop-color="#48adde"/><stop offset="0.111" stop-color="#4aadde"/><stop offset="0.139" stop-color="#50afdf"/><stop offset="0.167" stop-color="#5cb2e1"/><stop offset="0.194" stop-color="#6fbae5"/><stop offset="0.222" stop-color="#87c3e9"/><stop offset="0.250" stop-color="#9fcdec"/><stop offset="0.278" stop-color="#b4d6f0"/><stop offset="0.306" stop-color="#c7ddf2"/><stop offset="0.333" stop-color="#d5e0f2"/><stop offset="0.361" stop-color="#dbdbef"/><stop offset="0.389" stop-color="#ddd0e8"/><stop offset="0.417" stop-color="#dec6e2"/><stop offset="0.444" stop-color="#e2c1de"/><stop offset="0.472" stop-color="#e6bdd9"/><stop offset="0.500" stop-color="#e9b4d0"/><stop offset="0.528" stop-color="#eba2c0"/><stop offset="0.556" stop-color="#ea89aa"/><stop offset="0.583" stop-color="#e86e92"/><stop offset="0.611" stop-color="#e6587c"/><stop offset="0.639" stop-color="#e4486a"/><stop offset="0.667" stop-color="#e43e5c"/><stop offset="0.694" stop-color="#e33850"/><stop offset="0.722" stop-color="#e43646"/><stop offset="0.750" stop-color="#e4363e"/><stop offset="0.778" stop-color="#e33637"/><stop offset="0.806" stop-color="#e13432"/><stop offset="0.833" stop-color="#e03230"/><stop offset="0.861" stop-color="#df312f"/><stop offset="0.889" stop-color="#df302f"/><stop offset="0.917" stop-color="#de2f2e"/><stop offset="0.944" stop-color="#de2e2e"/><stop offset="0.972" stop-color="#de2e2e"/><stop offset="1.000" stop-color="#de2e2e"/></linearGradient><linearGradient id="r356" gradientUnits="userSpaceOnUse" x1="506" y1="0" x2="722" y2="0"><stop offset="0.000" stop-color="#47addd"/><stop offset="0.028" stop-color="#46addd"/><stop offset="0.056" stop-color="#45acde"/><stop offset="0.083" stop-color="#44acde"/><stop offset="0.111" stop-color="#45abdf"/><stop offset="0.139" stop-color="#4aace0"/><stop offset="0.167" stop-color="#56b0e2"/><stop offset="0.194" stop-color="#69b6e4"/><stop offset="0.222" stop-color="#80bfe7"/><stop offset="0.250" stop-color="#96c8ea"/><stop offset="0.278" stop-color="#a9cfec"/><stop offset="0.306" stop-color="#b9d2ed"/><stop offset="0.333" stop-color="#c4d0eb"/><stop offset="0.361" stop-color="#c8c6e5"/><stop offset="0.389" stop-color="#cbbadd"/><stop offset="0.417" stop-color="#d1b3d8"/><stop offset="0.444" stop-color="#d8b2d6"/><stop offset="0.472" stop-color="#deb0d3"/><stop offset="0.500" stop-color="#e4aacc"/><stop offset="0.528" stop-color="#e799bd"/><stop offset="0.556" stop-color="#e77fa6"/><stop offset="0.583" stop-color="#e6658f"/><stop offset="0.611" stop-color="#e4517c"/><stop offset="0.639" stop-color="#e3446c"/><stop offset="0.667" stop-color="#e33c60"/><stop offset="0.694" stop-color="#e33855"/><stop offset="0.722" stop-color="#e3364a"/><stop offset="0.750" stop-color="#e33541"/><stop offset="0.778" stop-color="#e33538"/><stop offset="0.806" stop-color="#e13332"/><stop offset="0.833" stop-color="#e03230"/><stop offset="0.861" stop-color="#df302f"/><stop offset="0.889" stop-color="#df2f2f"/><stop offset="0.917" stop-color="#de2f2e"/><stop offset="0.944" stop-color="#de2e2e"/><stop offset="0.972" stop-color="#de2e2e"/><stop offset="1.000" stop-color="#de2e2e"/></linearGradient><linearGradient id="r359" gradientUnits="userSpaceOnUse" x1="506" y1="0" x2="722" y2="0"><stop offset="0.000" stop-color="#45adde"/><stop offset="0.028" stop-color="#44acde"/><stop offset="0.056" stop-color="#42abdf"/><stop offset="0.083" stop-color="#40aadf"/><stop offset="0.111" stop-color="#40a9df"/><stop offset="0.139" stop-color="#43a9e0"/><stop offset="0.167" stop-color="#4eace1"/><stop offset="0.194" stop-color="#60b1e3"/><stop offset="0.222" stop-color="#76b9e5"/><stop offset="0.250" stop-color="#8bc0e7"/><stop offset="0.278" stop-color="#9bc3e7"/><stop offset="0.306" stop-color="#a5c1e5"/><stop offset="0.333" stop-color="#aab8df"/><stop offset="0.361" stop-color="#afabd7"/><stop offset="0.389" stop-color="#b8a2d1"/><stop offset="0.417" stop-color="#c4a2d0"/><stop offset="0.444" stop-color="#cfa4cf"/><stop offset="0.472" stop-color="#d7a4ce"/><stop offset="0.500" stop-color="#dd9ec7"/><stop offset="0.528" stop-color="#e28db8"/><stop offset="0.556" stop-color="#e474a2"/><stop offset="0.583" stop-color="#e35c8c"/><stop offset="0.611" stop-color="#e34b7b"/><stop offset="0.639" stop-color="#e2416f"/><stop offset="0.667" stop-color="#e23b64"/><stop offset="0.694" stop-color="#e3375a"/><stop offset="0.722" stop-color="#e33650"/><stop offset="0.750" stop-color="#e33545"/><stop offset="0.778" stop-color="#e23539"/><stop offset="0.806" stop-color="#e13332"/><stop offset="0.833" stop-color="#e03130"/><stop offset="0.861" stop-color="#df302f"/><stop offset="0.889" stop-color="#df2f2f"/><stop offset="0.917" stop-color="#de2f2e"/><stop offset="0.944" stop-color="#de2e2e"/><stop offset="0.972" stop-color="#de2e2e"/><stop offset="1.000" stop-color="#de2e2e"/></linearGradient><linearGradient id="r362" gradientUnits="userSpaceOnUse" x1="506" y1="0" x2="722" y2="0"><stop offset="0.000" stop-color="#43acde"/><stop offset="0.028" stop-color="#41abdf"/><stop offset="0.056" stop-color="#3faadf"/><stop offset="0.083" stop-color="#3ca8df"/><stop offset="0.111" stop-color="#3ba7e0"/><stop offset="0.139" stop-color="#3da6e0"/><stop offset="0.167" stop-color="#45a7e0"/><stop offset="0.194" stop-color="#54a9e0"/><stop offset="0.222" stop-color="#69aee0"/><stop offset="0.250" stop-color="#7bb2e0"/><stop offset="0.278" stop-color="#87b1df"/><stop offset="0.306" stop-color="#8ba9d9"/><stop offset="0.333" stop-color="#8d9bd1"/><stop offset="0.361" stop-color="#9590ca"/><stop offset="0.389" stop-color="#a68fc8"/><stop offset="0.417" stop-color="#b893c8"/><stop offset="0.444" stop-color="#c698c9"/><stop offset="0.472" stop-color="#cf99c8"/><stop offset="0.500" stop-color="#d792c2"/><stop offset="0.528" stop-color="#dc81b2"/><stop offset="0.556" stop-color="#e0689d"/><stop offset="0.583" stop-color="#e1538a"/><stop offset="0.611" stop-color="#e1457c"/><stop offset="0.639" stop-color="#e13e71"/><stop offset="0.667" stop-color="#e23968"/><stop offset="0.694" stop-color="#e23760"/><stop offset="0.722" stop-color="#e23557"/><stop offset="0.750" stop-color="#e3354b"/><stop offset="0.778" stop-color="#e2343c"/><stop offset="0.806" stop-color="#e03231"/><stop offset="0.833" stop-color="#df312f"/><stop offset="0.861" stop-color="#df302f"/><stop offset="0.889" stop-color="#de2f2e"/><stop offset="0.917" stop-color="#de2e2e"/><stop offset="0.944" stop-color="#de2e2e"/><stop offset="0.972" stop-color="#de2e2e"/><stop offset="1.000" stop-color="#de2e2e"/></linearGradient><linearGradient id="r365" gradientUnits="userSpaceOnUse" x1="506" y1="0" x2="722" y2="0"><stop offset="0.000" stop-color="#41abdf"/><stop offset="0.028" stop-color="#3ea9df"/><stop offset="0.056" stop-color="#3ba8df"/><stop offset="0.083" stop-color="#38a6e0"/><stop offset="0.111" stop-color="#37a4df"/><stop offset="0.139" stop-color="#39a2df"/><stop offset="0.167" stop-color="#3ea0dd"/><stop offset="0.194" stop-color="#499fdc"/><stop offset="0.222" stop-color="#589fda"/><stop offset="0.250" stop-color="#679fd7"/><stop offset="0.278" stop-color="#6f9ad3"/><stop offset="0.306" stop-color="#718fcc"/><stop offset="0.333" stop-color="#7382c4"/><stop offset="0.361" stop-color="#807dc0"/><stop offset="0.389" stop-color="#9781c0"/><stop offset="0.417" stop-color="#ae88c2"/><stop offset="0.444" stop-color="#bd8dc4"/><stop offset="0.472" stop-color="#c88dc2"/><stop offset="0.500" stop-color="#d086bc"/><stop offset="0.528" stop-color="#d674ad"/><stop offset="0.556" stop-color="#db5d99"/><stop offset="0.583" stop-color="#de4b88"/><stop offset="0.611" stop-color="#df417c"/><stop offset="0.639" stop-color="#e03b74"/><stop offset="0.667" stop-color="#e1386c"/><stop offset="0.694" stop-color="#e13665"/><stop offset="0.722" stop-color="#e2355d"/><stop offset="0.750" stop-color="#e23553"/><stop offset="0.778" stop-color="#e23440"/><stop offset="0.806" stop-color="#e03232"/><stop offset="0.833" stop-color="#df302f"/><stop offset="0.861" stop-color="#df2f2f"/><stop offset="0.889" stop-color="#de2f2e"/><stop offset="0.917" stop-color="#de2e2e"/><stop offset="0.944" stop-color="#de2e2e"/><stop offset="0.972" stop-color="#de2e2e"/><stop offset="1.000" stop-color="#de2e2e"/></linearGradient><linearGradient id="r368" gradientUnits="userSpaceOnUse" x1="506" y1="0" x2="722" y2="0"><stop offset="0.000" stop-color="#3ea9df"/><stop offset="0.028" stop-color="#3aa8df"/><stop offset="0.056" stop-color="#37a6e0"/><stop offset="0.083" stop-color="#36a4df"/><stop offset="0.111" stop-color="#35a1df"/><stop offset="0.139" stop-color="#369edd"/><stop offset="0.167" stop-color="#3a9adb"/><stop offset="0.194" stop-color="#4095d7"/><stop offset="0.222" stop-color="#4a90d2"/><stop offset="0.250" stop-color="#538bcd"/><stop offset="0.278" stop-color="#5983c7"/><stop offset="0.306" stop-color="#5c79c1"/><stop offset="0.333" stop-color="#6171bc"/><stop offset="0.361" stop-color="#7170ba"/><stop offset="0.389" stop-color="#8b76bb"/><stop offset="0.417" stop-color="#a47ebd"/><stop offset="0.444" stop-color="#b583be"/><stop offset="0.472" stop-color="#c082bc"/><stop offset="0.500" stop-color="#c87ab5"/><stop offset="0.528" stop-color="#d168a7"/><stop offset="0.556" stop-color="#d75496"/><stop offset="0.583" stop-color="#db4688"/><stop offset="0.611" stop-color="#de3e7e"/><stop offset="0.639" stop-color="#df3a76"/><stop offset="0.667" stop-color="#e03770"/><stop offset="0.694" stop-color="#e1366a"/><stop offset="0.722" stop-color="#e13564"/><stop offset="0.750" stop-color="#e2355a"/><stop offset="0.778" stop-color="#e23446"/><stop offset="0.806" stop-color="#e03132"/><stop offset="0.833" stop-color="#df302f"/><stop offset="0.861" stop-color="#df2f2f"/><stop offset="0.889" stop-color="#de2f2e"/><stop offset="0.917" stop-color="#de2e2e"/><stop offset="0.944" stop-color="#de2e2e"/><stop offset="0.972" stop-color="#de2e2e"/><stop offset="1.000" stop-color="#de2e2e"/></linearGradient><linearGradient id="r371" gradientUnits="userSpaceOnUse" x1="506" y1="0" x2="722" y2="0"><stop offset="0.000" stop-color="#3aa8e0"/><stop offset="0.028" stop-color="#37a6e0"/><stop offset="0.056" stop-color="#35a4e0"/><stop offset="0.083" stop-color="#34a1df"/><stop offset="0.111" stop-color="#349ede"/><stop offset="0.139" stop-color="#3599db"/><stop offset="0.167" stop-color="#3793d7"/><stop offset="0.194" stop-color="#3b8bd2"/><stop offset="0.222" stop-color="#4084cc"/><stop offset="0.250" stop-color="#467cc5"/><stop offset="0.278" stop-color="#4a74bf"/><stop offset="0.306" stop-color="#4e6cba"/><stop offset="0.333" stop-color="#5567b6"/><stop offset="0.361" stop-color="#6668b5"/><stop offset="0.389" stop-color="#806eb6"/><stop offset="0.417" stop-color="#9a75b8"/><stop offset="0.444" stop-color="#ab79b8"/><stop offset="0.472" stop-color="#b777b6"/><stop offset="0.500" stop-color="#c16faf"/><stop offset="0.528" stop-color="#cb5fa3"/><stop offset="0.556" stop-color="#d34e94"/><stop offset="0.583" stop-color="#d94289"/><stop offset="0.611" stop-color="#dc3c80"/><stop offset="0.639" stop-color="#de3979"/><stop offset="0.667" stop-color="#df3774"/><stop offset="0.694" stop-color="#e0356f"/><stop offset="0.722" stop-color="#e13569"/><stop offset="0.750" stop-color="#e13462"/><stop offset="0.778" stop-color="#e2344f"/><stop offset="0.806" stop-color="#e03133"/><stop offset="0.833" stop-color="#df302f"/><stop offset="0.861" stop-color="#de2f2e"/><stop offset="0.889" stop-color="#de2e2e"/><stop offset="0.917" stop-color="#de2e2e"/><stop offset="0.944" stop-color="#de2e2e"/><stop offset="0.972" stop-color="#de2e2e"/><stop offset="1.000" stop-color="#de2e2e"/></linearGradient><linearGradient id="r374" gradientUnits="userSpaceOnUse" x1="506" y1="0" x2="722" y2="0"><stop offset="0.000" stop-color="#37a6e0"/><stop offset="0.028" stop-color="#35a4e0"/><stop offset="0.056" stop-color="#34a1df"/><stop offset="0.083" stop-color="#339ede"/><stop offset="0.111" stop-color="#339adc"/><stop offset="0.139" stop-color="#3494d9"/><stop offset="0.167" stop-color="#368dd4"/><stop offset="0.194" stop-color="#3885ce"/><stop offset="0.222" stop-color="#3c7cc7"/><stop offset="0.250" stop-color="#3f73c1"/><stop offset="0.278" stop-color="#426cba"/><stop offset="0.306" stop-color="#4765b6"/><stop offset="0.333" stop-color="#4e61b3"/><stop offset="0.361" stop-color="#5e62b1"/><stop offset="0.389" stop-color="#7666b1"/><stop offset="0.417" stop-color="#8f6bb1"/><stop offset="0.444" stop-color="#a16eb1"/><stop offset="0.472" stop-color="#ad6caf"/><stop offset="0.500" stop-color="#b865a9"/><stop offset="0.528" stop-color="#c4579f"/><stop offset="0.556" stop-color="#cf4994"/><stop offset="0.583" stop-color="#d6408a"/><stop offset="0.611" stop-color="#da3b82"/><stop offset="0.639" stop-color="#dd387c"/><stop offset="0.667" stop-color="#df3677"/><stop offset="0.694" stop-color="#e03572"/><stop offset="0.722" stop-color="#e0356e"/><stop offset="0.750" stop-color="#e13468"/><stop offset="0.778" stop-color="#e13458"/><stop offset="0.806" stop-color="#e03134"/><stop offset="0.833" stop-color="#df2f2f"/><stop offset="0.861" stop-color="#de2f2e"/><stop offset="0.889" stop-color="#de2e2e"/><stop offset="0.917" stop-color="#de2e2e"/><stop offset="0.944" stop-color="#de2e2e"/><stop offset="0.972" stop-color="#de2e2e"/><stop offset="1.000" stop-color="#de2e2e"/></linearGradient><linearGradient id="r377" gradientUnits="userSpaceOnUse" x1="506" y1="0" x2="722" y2="0"><stop offset="0.000" stop-color="#35a4e0"/><stop offset="0.028" stop-color="#33a2df"/><stop offset="0.056" stop-color="#339fde"/><stop offset="0.083" stop-color="#339bdc"/><stop offset="0.111" stop-color="#3396da"/><stop offset="0.139" stop-color="#348fd6"/><stop offset="0.167" stop-color="#3587d1"/><stop offset="0.194" stop-color="#377fcb"/><stop offset="0.222" stop-color="#3a77c4"/><stop offset="0.250" stop-color="#3c6ebd"/><stop offset="0.278" stop-color="#3f67b7"/><stop offset="0.306" stop-color="#4261b2"/><stop offset="0.333" stop-color="#495daf"/><stop offset="0.361" stop-color="#575cad"/><stop offset="0.389" stop-color="#6c5eac"/><stop offset="0.417" stop-color="#8362ab"/><stop offset="0.444" stop-color="#9563aa"/><stop offset="0.472" stop-color="#a262a8"/><stop offset="0.500" stop-color="#af5da4"/><stop offset="0.528" stop-color="#bd529c"/><stop offset="0.556" stop-color="#cb4793"/><stop offset="0.583" stop-color="#d33f8b"/><stop offset="0.611" stop-color="#d83b85"/><stop offset="0.639" stop-color="#dc387f"/><stop offset="0.667" stop-color="#de3779"/><stop offset="0.694" stop-color="#df3575"/><stop offset="0.722" stop-color="#e03571"/><stop offset="0.750" stop-color="#e0346d"/><stop offset="0.778" stop-color="#e13461"/><stop offset="0.806" stop-color="#df3137"/><stop offset="0.833" stop-color="#df2f2f"/><stop offset="0.861" stop-color="#de2f2e"/><stop offset="0.889" stop-color="#de2e2e"/><stop offset="0.917" stop-color="#de2e2e"/><stop offset="0.944" stop-color="#de2e2e"/><stop offset="0.972" stop-color="#de2e2e"/><stop offset="1.000" stop-color="#de2e2e"/></linearGradient><linearGradient id="r380" gradientUnits="userSpaceOnUse" x1="506" y1="0" x2="722" y2="0"><stop offset="0.000" stop-color="#33a2df"/><stop offset="0.028" stop-color="#339fde"/><stop offset="0.056" stop-color="#339bdd"/><stop offset="0.083" stop-color="#3397da"/><stop offset="0.111" stop-color="#3391d7"/><stop offset="0.139" stop-color="#348ad3"/><stop offset="0.167" stop-color="#3682ce"/><stop offset="0.194" stop-color="#377ac7"/><stop offset="0.222" stop-color="#3972c1"/><stop offset="0.250" stop-color="#3b6bba"/><stop offset="0.278" stop-color="#3d63b4"/><stop offset="0.306" stop-color="#405daf"/><stop offset="0.333" stop-color="#4659ab"/><stop offset="0.361" stop-color="#5157a9"/><stop offset="0.389" stop-color="#6357a6"/><stop offset="0.417" stop-color="#7859a5"/><stop offset="0.444" stop-color="#895aa4"/><stop offset="0.472" stop-color="#975aa3"/><stop offset="0.500" stop-color="#a556a0"/><stop offset="0.528" stop-color="#b54f9a"/><stop offset="0.556" stop-color="#c64693"/><stop offset="0.583" stop-color="#d03f8d"/><stop offset="0.611" stop-color="#d73b87"/><stop offset="0.639" stop-color="#da3981"/><stop offset="0.667" stop-color="#dd377c"/><stop offset="0.694" stop-color="#de3678"/><stop offset="0.722" stop-color="#df3574"/><stop offset="0.750" stop-color="#e03471"/><stop offset="0.778" stop-color="#e13469"/><stop offset="0.806" stop-color="#df313c"/><stop offset="0.833" stop-color="#de2f2f"/><stop offset="0.861" stop-color="#de2e2e"/><stop offset="0.889" stop-color="#de2e2e"/><stop offset="0.917" stop-color="#de2e2e"/><stop offset="0.944" stop-color="#de2e2e"/><stop offset="0.972" stop-color="#de2e2e"/><stop offset="1.000" stop-color="#de2e2e"/></linearGradient><linearGradient id="r383" gradientUnits="userSpaceOnUse" x1="506" y1="0" x2="722" y2="0"><stop offset="0.000" stop-color="#339fde"/><stop offset="0.028" stop-color="#329cdd"/><stop offset="0.056" stop-color="#3397db"/><stop offset="0.083" stop-color="#3392d8"/><stop offset="0.111" stop-color="#348cd4"/><stop offset="0.139" stop-color="#3585cf"/><stop offset="0.167" stop-color="#367dca"/><stop offset="0.194" stop-color="#3775c4"/><stop offset="0.222" stop-color="#396ebd"/><stop offset="0.250" stop-color="#3a67b7"/><stop offset="0.278" stop-color="#3c60b1"/><stop offset="0.306" stop-color="#3e59ac"/><stop offset="0.333" stop-color="#4355a8"/><stop offset="0.361" stop-color="#4d53a5"/><stop offset="0.389" stop-color="#5c52a2"/><stop offset="0.417" stop-color="#6d53a1"/><stop offset="0.444" stop-color="#7e54a0"/><stop offset="0.472" stop-color="#8c549e"/><stop offset="0.500" stop-color="#9b529c"/><stop offset="0.528" stop-color="#ac4c99"/><stop offset="0.556" stop-color="#bf4594"/><stop offset="0.583" stop-color="#cd408e"/><stop offset="0.611" stop-color="#d43c89"/><stop offset="0.639" stop-color="#d93983"/><stop offset="0.667" stop-color="#dc377e"/><stop offset="0.694" stop-color="#de367a"/><stop offset="0.722" stop-color="#df3577"/><stop offset="0.750" stop-color="#e03574"/><stop offset="0.778" stop-color="#e0346e"/><stop offset="0.806" stop-color="#df3144"/><stop offset="0.833" stop-color="#de2f2f"/><stop offset="0.861" stop-color="#de2e2e"/><stop offset="0.889" stop-color="#de2e2e"/><stop offset="0.917" stop-color="#de2e2e"/><stop offset="0.944" stop-color="#de2e2e"/><stop offset="0.972" stop-color="#de2e2e"/><stop offset="1.000" stop-color="#de2e2e"/></linearGradient><linearGradient id="r386" gradientUnits="userSpaceOnUse" x1="506" y1="0" x2="722" y2="0"><stop offset="0.000" stop-color="#329cdd"/><stop offset="0.028" stop-color="#3298db"/><stop offset="0.056" stop-color="#3393d8"/><stop offset="0.083" stop-color="#338dd5"/><stop offset="0.111" stop-color="#3486d0"/><stop offset="0.139" stop-color="#357fcb"/><stop offset="0.167" stop-color="#3677c5"/><stop offset="0.194" stop-color="#3870bf"/><stop offset="0.222" stop-color="#3969b9"/><stop offset="0.250" stop-color="#3a62b3"/><stop offset="0.278" stop-color="#3b5cae"/><stop offset="0.306" stop-color="#3d56a9"/><stop offset="0.333" stop-color="#4152a5"/><stop offset="0.361" stop-color="#4950a2"/><stop offset="0.389" stop-color="#564fa0"/><stop offset="0.417" stop-color="#654f9e"/><stop offset="0.444" stop-color="#74509d"/><stop offset="0.472" stop-color="#83509c"/><stop offset="0.500" stop-color="#914f9a"/><stop offset="0.528" stop-color="#a34b98"/><stop offset="0.556" stop-color="#b84694"/><stop offset="0.583" stop-color="#c8408f"/><stop offset="0.611" stop-color="#d23d8b"/><stop offset="0.639" stop-color="#d73a86"/><stop offset="0.667" stop-color="#db3881"/><stop offset="0.694" stop-color="#dd367c"/><stop offset="0.722" stop-color="#de3579"/><stop offset="0.750" stop-color="#df3576"/><stop offset="0.778" stop-color="#e03472"/><stop offset="0.806" stop-color="#df314e"/><stop offset="0.833" stop-color="#de2f2f"/><stop offset="0.861" stop-color="#de2e2e"/><stop offset="0.889" stop-color="#de2e2e"/><stop offset="0.917" stop-color="#de2e2e"/><stop offset="0.944" stop-color="#de2e2e"/><stop offset="0.972" stop-color="#de2e2e"/><stop offset="1.000" stop-color="#de2e2e"/></linearGradient><linearGradient id="r389" gradientUnits="userSpaceOnUse" x1="506" y1="0" x2="722" y2="0"><stop offset="0.000" stop-color="#3298db"/><stop offset="0.028" stop-color="#3393d9"/><stop offset="0.056" stop-color="#338dd5"/><stop offset="0.083" stop-color="#3487d1"/><stop offset="0.111" stop-color="#347fcb"/><stop offset="0.139" stop-color="#3678c5"/><stop offset="0.167" stop-color="#3771bf"/><stop offset="0.194" stop-color="#386aba"/><stop offset="0.222" stop-color="#3863b4"/><stop offset="0.250" stop-color="#395daf"/><stop offset="0.278" stop-color="#3a57aa"/><stop offset="0.306" stop-color="#3c52a6"/><stop offset="0.333" stop-color="#404fa2"/><stop offset="0.361" stop-color="#474da0"/><stop offset="0.389" stop-color="#514d9e"/><stop offset="0.417" stop-color="#5e4d9d"/><stop offset="0.444" stop-color="#6c4d9b"/><stop offset="0.472" stop-color="#7b4e9a"/><stop offset="0.500" stop-color="#894d99"/><stop offset="0.528" stop-color="#9a4b97"/><stop offset="0.556" stop-color="#af4694"/><stop offset="0.583" stop-color="#c34191"/><stop offset="0.611" stop-color="#cf3d8c"/><stop offset="0.639" stop-color="#d53b88"/><stop offset="0.667" stop-color="#d93983"/><stop offset="0.694" stop-color="#dc377e"/><stop offset="0.722" stop-color="#de367b"/><stop offset="0.750" stop-color="#df3578"/><stop offset="0.778" stop-color="#e03475"/><stop offset="0.806" stop-color="#df3259"/><stop offset="0.833" stop-color="#de2f30"/><stop offset="0.861" stop-color="#de2e2e"/><stop offset="0.889" stop-color="#de2e2e"/><stop offset="0.917" stop-color="#de2e2e"/><stop offset="0.944" stop-color="#de2e2e"/><stop offset="0.972" stop-color="#de2e2e"/><stop offset="1.000" stop-color="#de2e2e"/></linearGradient><linearGradient id="r392" gradientUnits="userSpaceOnUse" x1="506" y1="0" x2="722" y2="0"><stop offset="0.000" stop-color="#3294d9"/><stop offset="0.028" stop-color="#338ed5"/><stop offset="0.056" stop-color="#3387d1"/><stop offset="0.083" stop-color="#347fcb"/><stop offset="0.111" stop-color="#3578c5"/><stop offset="0.139" stop-color="#3670bf"/><stop offset="0.167" stop-color="#3769b9"/><stop offset="0.194" stop-color="#3863b4"/><stop offset="0.222" stop-color="#385daf"/><stop offset="0.250" stop-color="#3958aa"/><stop offset="0.278" stop-color="#3a53a6"/><stop offset="0.306" stop-color="#3b4fa3"/><stop offset="0.333" stop-color="#3f4da1"/><stop offset="0.361" stop-color="#454c9f"/><stop offset="0.389" stop-color="#4e4c9d"/><stop offset="0.417" stop-color="#594c9c"/><stop offset="0.444" stop-color="#664c9b"/><stop offset="0.472" stop-color="#744c9a"/><stop offset="0.500" stop-color="#824c99"/><stop offset="0.528" stop-color="#924a97"/><stop offset="0.556" stop-color="#a64795"/><stop offset="0.583" stop-color="#bc4292"/><stop offset="0.611" stop-color="#cb3e8e"/><stop offset="0.639" stop-color="#d33c8a"/><stop offset="0.667" stop-color="#d83a85"/><stop offset="0.694" stop-color="#db3880"/><stop offset="0.722" stop-color="#dd367c"/><stop offset="0.750" stop-color="#de3579"/><stop offset="0.778" stop-color="#df3577"/><stop offset="0.806" stop-color="#df3363"/><stop offset="0.833" stop-color="#de2f31"/><stop offset="0.861" stop-color="#de2e2e"/><stop offset="0.889" stop-color="#de2e2e"/><stop offset="0.917" stop-color="#de2e2e"/><stop offset="0.944" stop-color="#de2e2e"/><stop offset="0.972" stop-color="#de2e2e"/><stop offset="1.000" stop-color="#de2e2e"/></linearGradient><linearGradient id="r395" gradientUnits="userSpaceOnUse" x1="506" y1="0" x2="722" y2="0"><stop offset="0.000" stop-color="#338ed5"/><stop offset="0.028" stop-color="#3387d0"/><stop offset="0.056" stop-color="#347fcb"/><stop offset="0.083" stop-color="#3577c4"/><stop offset="0.111" stop-color="#366ebd"/><stop offset="0.139" stop-color="#3667b7"/><stop offset="0.167" stop-color="#3761b2"/><stop offset="0.194" stop-color="#385cae"/><stop offset="0.222" stop-color="#3857aa"/><stop offset="0.250" stop-color="#3853a6"/><stop offset="0.278" stop-color="#3950a3"/><stop offset="0.306" stop-color="#3b4da1"/><stop offset="0.333" stop-color="#3e4c9f"/><stop offset="0.361" stop-color="#434b9e"/><stop offset="0.389" stop-color="#4b4b9d"/><stop offset="0.417" stop-color="#554b9c"/><stop offset="0.444" stop-color="#614b9b"/><stop offset="0.472" stop-color="#6e4c9a"/><stop offset="0.500" stop-color="#7b4b99"/><stop offset="0.528" stop-color="#8a4a97"/><stop offset="0.556" stop-color="#9d4895"/><stop offset="0.583" stop-color="#b44493"/><stop offset="0.611" stop-color="#c6408f"/><stop offset="0.639" stop-color="#d13d8c"/><stop offset="0.667" stop-color="#d63a87"/><stop offset="0.694" stop-color="#da3882"/><stop offset="0.722" stop-color="#dc377e"/><stop offset="0.750" stop-color="#de367b"/><stop offset="0.778" stop-color="#df3578"/><stop offset="0.806" stop-color="#df346b"/><stop offset="0.833" stop-color="#de2f33"/><stop offset="0.861" stop-color="#de2e2e"/><stop offset="0.889" stop-color="#de2e2e"/><stop offset="0.917" stop-color="#de2e2e"/><stop offset="0.944" stop-color="#de2e2e"/><stop offset="0.972" stop-color="#de2e2e"/><stop offset="1.000" stop-color="#de2e2e"/></linearGradient><linearGradient id="r398" gradientUnits="userSpaceOnUse" x1="506" y1="0" x2="722" y2="0"><stop offset="0.000" stop-color="#3386d0"/><stop offset="0.028" stop-color="#347eca"/><stop offset="0.056" stop-color="#3575c3"/><stop offset="0.083" stop-color="#356cbc"/><stop offset="0.111" stop-color="#3665b5"/><stop offset="0.139" stop-color="#375fb0"/><stop offset="0.167" stop-color="#375aac"/><stop offset="0.194" stop-color="#3756a9"/><stop offset="0.222" stop-color="#3852a6"/><stop offset="0.250" stop-color="#384fa3"/><stop offset="0.278" stop-color="#394da1"/><stop offset="0.306" stop-color="#3a4b9f"/><stop offset="0.333" stop-color="#3d4b9e"/><stop offset="0.361" stop-color="#424b9e"/><stop offset="0.389" stop-color="#494b9d"/><stop offset="0.417" stop-color="#524b9c"/><stop offset="0.444" stop-color="#5c4b9b"/><stop offset="0.472" stop-color="#684b9a"/><stop offset="0.500" stop-color="#754b99"/><stop offset="0.528" stop-color="#834b98"/><stop offset="0.556" stop-color="#954996"/><stop offset="0.583" stop-color="#ab4594"/><stop offset="0.611" stop-color="#c04191"/><stop offset="0.639" stop-color="#cd3e8d"/><stop offset="0.667" stop-color="#d43b89"/><stop offset="0.694" stop-color="#d83985"/><stop offset="0.722" stop-color="#db3780"/><stop offset="0.750" stop-color="#dd367c"/><stop offset="0.778" stop-color="#de357a"/><stop offset="0.806" stop-color="#df3571"/><stop offset="0.833" stop-color="#dd3137"/><stop offset="0.861" stop-color="#de2f2f"/><stop offset="0.889" stop-color="#de2e2e"/><stop offset="0.917" stop-color="#de2e2e"/><stop offset="0.944" stop-color="#de2e2e"/><stop offset="0.972" stop-color="#de2e2e"/><stop offset="1.000" stop-color="#de2f2e"/></linearGradient><linearGradient id="r401" gradientUnits="userSpaceOnUse" x1="506" y1="0" x2="722" y2="0"><stop offset="0.000" stop-color="#347cc8"/><stop offset="0.028" stop-color="#3572c1"/><stop offset="0.056" stop-color="#3569b9"/><stop offset="0.083" stop-color="#3662b3"/><stop offset="0.111" stop-color="#375cae"/><stop offset="0.139" stop-color="#3757aa"/><stop offset="0.167" stop-color="#3754a7"/><stop offset="0.194" stop-color="#3751a4"/><stop offset="0.222" stop-color="#384ea2"/><stop offset="0.250" stop-color="#384ca0"/><stop offset="0.278" stop-color="#394b9f"/><stop offset="0.306" stop-color="#3a4a9e"/><stop offset="0.333" stop-color="#3c4a9e"/><stop offset="0.361" stop-color="#404a9e"/><stop offset="0.389" stop-color="#474b9d"/><stop offset="0.417" stop-color="#4f4b9c"/><stop offset="0.444" stop-color="#594b9b"/><stop offset="0.472" stop-color="#634b9a"/><stop offset="0.500" stop-color="#704b99"/><stop offset="0.528" stop-color="#7d4b98"/><stop offset="0.556" stop-color="#8d4996"/><stop offset="0.583" stop-color="#a24694"/><stop offset="0.611" stop-color="#b94292"/><stop offset="0.639" stop-color="#c93f8f"/><stop offset="0.667" stop-color="#d23c8b"/><stop offset="0.694" stop-color="#d73a87"/><stop offset="0.722" stop-color="#da3882"/><stop offset="0.750" stop-color="#dc377e"/><stop offset="0.778" stop-color="#de367b"/><stop offset="0.806" stop-color="#dd3976"/><stop offset="0.833" stop-color="#d83e45"/><stop offset="0.861" stop-color="#db3433"/><stop offset="0.889" stop-color="#dd3130"/><stop offset="0.917" stop-color="#dd302f"/><stop offset="0.944" stop-color="#dd302f"/><stop offset="0.972" stop-color="#dd3030"/><stop offset="1.000" stop-color="#dc3231"/></linearGradient><linearGradient id="r404" gradientUnits="userSpaceOnUse" x1="506" y1="0" x2="722" y2="0"><stop offset="0.000" stop-color="#356fbe"/><stop offset="0.028" stop-color="#3666b6"/><stop offset="0.056" stop-color="#365eb0"/><stop offset="0.083" stop-color="#3758ab"/><stop offset="0.111" stop-color="#3754a8"/><stop offset="0.139" stop-color="#3751a5"/><stop offset="0.167" stop-color="#374fa3"/><stop offset="0.194" stop-color="#374da1"/><stop offset="0.222" stop-color="#384ba0"/><stop offset="0.250" stop-color="#384a9f"/><stop offset="0.278" stop-color="#38499e"/><stop offset="0.306" stop-color="#39499d"/><stop offset="0.333" stop-color="#3b499d"/><stop offset="0.361" stop-color="#3f4a9d"/><stop offset="0.389" stop-color="#444a9d"/><stop offset="0.417" stop-color="#4c4b9d"/><stop offset="0.444" stop-color="#554b9c"/><stop offset="0.472" stop-color="#5f4b9b"/><stop offset="0.500" stop-color="#6b4b9a"/><stop offset="0.528" stop-color="#774b98"/><stop offset="0.556" stop-color="#864a97"/><stop offset="0.583" stop-color="#994895"/><stop offset="0.611" stop-color="#b04493"/><stop offset="0.639" stop-color="#c44090"/><stop offset="0.667" stop-color="#cf3d8c"/><stop offset="0.694" stop-color="#d53b88"/><stop offset="0.722" stop-color="#d93984"/><stop offset="0.750" stop-color="#db3780"/><stop offset="0.778" stop-color="#dd377d"/><stop offset="0.806" stop-color="#d6487c"/><stop offset="0.833" stop-color="#c26e6c"/><stop offset="0.861" stop-color="#cd544d"/><stop offset="0.889" stop-color="#d5423e"/><stop offset="0.917" stop-color="#d83b39"/><stop offset="0.944" stop-color="#d93a38"/><stop offset="0.972" stop-color="#d73d3b"/><stop offset="1.000" stop-color="#d24844"/></linearGradient><linearGradient id="r407" gradientUnits="userSpaceOnUse" x1="506" y1="0" x2="722" y2="0"><stop offset="0.000" stop-color="#3661b2"/><stop offset="0.028" stop-color="#365aac"/><stop offset="0.056" stop-color="#3755a8"/><stop offset="0.083" stop-color="#3751a5"/><stop offset="0.111" stop-color="#374fa3"/><stop offset="0.139" stop-color="#374da2"/><stop offset="0.167" stop-color="#374ca1"/><stop offset="0.194" stop-color="#374ba0"/><stop offset="0.222" stop-color="#374a9f"/><stop offset="0.250" stop-color="#38499e"/><stop offset="0.278" stop-color="#38489d"/><stop offset="0.306" stop-color="#39489d"/><stop offset="0.333" stop-color="#3a499d"/><stop offset="0.361" stop-color="#3d499d"/><stop offset="0.389" stop-color="#424a9d"/><stop offset="0.417" stop-color="#4a4b9d"/><stop offset="0.444" stop-color="#524b9c"/><stop offset="0.472" stop-color="#5c4b9b"/><stop offset="0.500" stop-color="#664b9a"/><stop offset="0.528" stop-color="#724b99"/><stop offset="0.556" stop-color="#7f4a97"/><stop offset="0.583" stop-color="#914996"/><stop offset="0.611" stop-color="#a74594"/><stop offset="0.639" stop-color="#bd4191"/><stop offset="0.667" stop-color="#cc3e8e"/><stop offset="0.694" stop-color="#d33c8a"/><stop offset="0.722" stop-color="#d73a86"/><stop offset="0.750" stop-color="#da3982"/><stop offset="0.778" stop-color="#d93e7f"/><stop offset="0.806" stop-color="#c27088"/><stop offset="0.833" stop-color="#ac9e8e"/><stop offset="0.861" stop-color="#b19382"/><stop offset="0.889" stop-color="#ba7f71"/><stop offset="0.917" stop-color="#c07166"/><stop offset="0.944" stop-color="#c16e63"/><stop offset="0.972" stop-color="#be766a"/><stop offset="1.000" stop-color="#b68879"/></linearGradient><linearGradient id="r410" gradientUnits="userSpaceOnUse" x1="506" y1="0" x2="722" y2="0"><stop offset="0.000" stop-color="#3655a9"/><stop offset="0.028" stop-color="#3751a5"/><stop offset="0.056" stop-color="#374fa3"/><stop offset="0.083" stop-color="#374da2"/><stop offset="0.111" stop-color="#374ca1"/><stop offset="0.139" stop-color="#374ba0"/><stop offset="0.167" stop-color="#374a9f"/><stop offset="0.194" stop-color="#37499f"/><stop offset="0.222" stop-color="#37499e"/><stop offset="0.250" stop-color="#38489d"/><stop offset="0.278" stop-color="#38489d"/><stop offset="0.306" stop-color="#39489d"/><stop offset="0.333" stop-color="#3a489d"/><stop offset="0.361" stop-color="#3c499d"/><stop offset="0.389" stop-color="#404a9d"/><stop offset="0.417" stop-color="#474a9d"/><stop offset="0.444" stop-color="#4f4b9c"/><stop offset="0.472" stop-color="#584b9b"/><stop offset="0.500" stop-color="#624b9a"/><stop offset="0.528" stop-color="#6d4b99"/><stop offset="0.556" stop-color="#7a4b98"/><stop offset="0.583" stop-color="#894997"/><stop offset="0.611" stop-color="#9e4795"/><stop offset="0.639" stop-color="#b54392"/><stop offset="0.667" stop-color="#c73f8f"/><stop offset="0.694" stop-color="#d13d8c"/><stop offset="0.722" stop-color="#d63b88"/><stop offset="0.750" stop-color="#d83c84"/><stop offset="0.778" stop-color="#cd5886"/><stop offset="0.806" stop-color="#ae9a92"/><stop offset="0.833" stop-color="#a7aa95"/><stop offset="0.861" stop-color="#a7a994"/><stop offset="0.889" stop-color="#a8a691"/><stop offset="0.917" stop-color="#aaa28e"/><stop offset="0.944" stop-color="#aaa18e"/><stop offset="0.972" stop-color="#a9a48f"/><stop offset="1.000" stop-color="#a8a792"/></linearGradient><linearGradient id="r413" gradientUnits="userSpaceOnUse" x1="506" y1="0" x2="722" y2="0"><stop offset="0.000" stop-color="#374ea3"/><stop offset="0.028" stop-color="#374da2"/><stop offset="0.056" stop-color="#374ba1"/><stop offset="0.083" stop-color="#374ba0"/><stop offset="0.111" stop-color="#374a9f"/><stop offset="0.139" stop-color="#37499f"/><stop offset="0.167" stop-color="#37499e"/><stop offset="0.194" stop-color="#37499e"/><stop offset="0.222" stop-color="#37489e"/><stop offset="0.250" stop-color="#38489d"/><stop offset="0.278" stop-color="#38489d"/><stop offset="0.306" stop-color="#38489c"/><stop offset="0.333" stop-color="#39489c"/><stop offset="0.361" stop-color="#3b489c"/><stop offset="0.389" stop-color="#3e499d"/><stop offset="0.417" stop-color="#454a9d"/><stop offset="0.444" stop-color="#4d4b9c"/><stop offset="0.472" stop-color="#554b9c"/><stop offset="0.500" stop-color="#5e4b9b"/><stop offset="0.528" stop-color="#684b9a"/><stop offset="0.556" stop-color="#744b98"/><stop offset="0.583" stop-color="#824a97"/><stop offset="0.611" stop-color="#954895"/><stop offset="0.639" stop-color="#ac4493"/><stop offset="0.667" stop-color="#c14090"/><stop offset="0.694" stop-color="#ce3e8d"/><stop offset="0.722" stop-color="#d33e8a"/><stop offset="0.750" stop-color="#d04c88"/><stop offset="0.778" stop-color="#b58a90"/><stop offset="0.806" stop-color="#a7a995"/><stop offset="0.833" stop-color="#a6ab96"/><stop offset="0.861" stop-color="#a6ab96"/><stop offset="0.889" stop-color="#a6ab96"/><stop offset="0.917" stop-color="#a6ab95"/><stop offset="0.944" stop-color="#a6ab95"/><stop offset="0.972" stop-color="#a6ab95"/><stop offset="1.000" stop-color="#a6ab96"/></linearGradient><linearGradient id="r416" gradientUnits="userSpaceOnUse" x1="506" y1="0" x2="722" y2="0"><stop offset="0.000" stop-color="#374ba0"/><stop offset="0.028" stop-color="#374aa0"/><stop offset="0.056" stop-color="#374a9f"/><stop offset="0.083" stop-color="#37499f"/><stop offset="0.111" stop-color="#37499f"/><stop offset="0.139" stop-color="#37499e"/><stop offset="0.167" stop-color="#37489e"/><stop offset="0.194" stop-color="#37489e"/><stop offset="0.222" stop-color="#37489d"/><stop offset="0.250" stop-color="#37489d"/><stop offset="0.278" stop-color="#38489d"/><stop offset="0.306" stop-color="#38489c"/><stop offset="0.333" stop-color="#39489c"/><stop offset="0.361" stop-color="#3a489c"/><stop offset="0.389" stop-color="#3d499d"/><stop offset="0.417" stop-color="#424a9d"/><stop offset="0.444" stop-color="#4a4a9c"/><stop offset="0.472" stop-color="#524b9c"/><stop offset="0.500" stop-color="#5b4b9b"/><stop offset="0.528" stop-color="#644b9a"/><stop offset="0.556" stop-color="#6f4b99"/><stop offset="0.583" stop-color="#7c4a98"/><stop offset="0.611" stop-color="#8d4996"/><stop offset="0.639" stop-color="#a34694"/><stop offset="0.667" stop-color="#ba4292"/><stop offset="0.694" stop-color="#c9408f"/><stop offset="0.722" stop-color="#cd488c"/><stop offset="0.750" stop-color="#bb798f"/><stop offset="0.778" stop-color="#a9a595"/><stop offset="0.806" stop-color="#a6ab96"/><stop offset="0.833" stop-color="#a6ac96"/><stop offset="0.861" stop-color="#a6ac96"/><stop offset="0.889" stop-color="#a6ac96"/><stop offset="0.917" stop-color="#a6ac96"/><stop offset="0.944" stop-color="#a6ac96"/><stop offset="0.972" stop-color="#a6ac96"/><stop offset="1.000" stop-color="#a6ac96"/></linearGradient><clipPath id="hs"><path d="M556.44,417.75 L556.44,417.75 L556.43,417.75 L556.43,417.75 L556.42,417.75 L556.40,417.75 L556.39,417.76 L556.37,417.77 L556.36,417.77 L556.35,417.77 L556.33,417.77 L556.32,417.77 L556.30,417.77 L556.28,417.78 L556.26,417.78 L556.24,417.79 L556.22,417.80 L556.20,417.80 L556.18,417.80 L556.16,417.80 L556.13,417.80 L556.11,417.80 L556.08,417.80 L556.05,417.80 L556.02,417.80 L555.99,417.80 L555.95,417.80 L555.92,417.80 L555.88,417.80 L555.83,417.79 L555.79,417.77 L555.74,417.75 L555.68,417.72 L555.61,417.69 L555.53,417.65 L555.45,417.60 L555.37,417.55 L555.28,417.49 L555.18,417.42 L555.08,417.35 L554.97,417.27 L554.84,417.18 L554.70,417.08 L554.56,416.97 L554.40,416.84 L554.24,416.71 L554.07,416.58 L553.89,416.43 L553.69,416.27 L553.48,416.10 L553.26,415.93 L553.02,415.74 L552.75,415.54 L552.46,415.32 L552.15,415.09 L551.82,414.83 L551.47,414.56 L551.11,414.28 L550.72,413.99 L550.32,413.67 L549.88,413.31 L549.42,412.93 L548.94,412.52 L548.43,412.06 L547.90,411.56 L547.34,411.02 L546.77,410.45 L546.15,409.79 L545.48,409.00 L544.75,408.08 L543.97,407.05 L543.14,405.88 L542.24,404.52 L541.30,402.99 L540.31,401.32 L539.25,399.43 L538.13,397.25 L536.93,394.80 L535.67,392.11 L534.34,389.11 L532.93,385.75 L531.42,382.03 L529.81,377.98 L528.16,373.56 L526.51,368.70 L524.86,363.40 L523.19,357.67 L521.52,351.55 L519.89,345.07 L518.27,338.16 L516.64,330.82 L515.09,323.23 L513.67,315.58 L512.38,307.79 L511.19,299.81 L510.15,291.84 L509.33,284.08 L508.71,276.50 L508.27,269.02 L508.05,261.77 L508.11,254.91 L508.43,248.36 L509.01,242.10 L509.84,236.26 L510.95,231.00 L512.35,226.30 L514.05,222.10 L515.97,218.48 L518.05,215.51 L520.32,213.27 L522.81,211.69 L525.43,210.66 L528.10,210.05 L530.84,209.93 L533.68,210.34 L536.56,211.08 L539.43,211.95 L542.31,212.98 L545.21,214.24 L548.10,215.62 L550.93,217.04 L553.70,218.48 L556.43,219.98 L559.12,221.53 L561.78,223.13 L564.42,224.77 L567.03,226.46 L569.62,228.20 L572.21,229.97 L574.79,231.79 L577.36,233.66 L579.93,235.56 L582.49,237.49 L585.04,239.45 L587.58,241.45 L590.12,243.47 L592.65,245.51 L595.19,247.57 L597.72,249.66 L600.26,251.76 L602.79,253.88 L605.33,256.01 L607.88,258.17 L610.42,260.33 L612.96,262.50 L615.49,264.68 L618.02,266.87 L620.55,269.06 L623.07,271.25 L625.59,273.44 L628.11,275.63 L630.63,277.81 L633.12,279.99 L635.61,282.17 L638.08,284.34 L640.54,286.49 L642.98,288.64 L645.40,290.77 L647.81,292.88 L650.19,294.98 L652.55,297.06 L654.88,299.11 L657.20,301.15 L659.48,303.15 L661.72,305.13 L663.94,307.07 L666.12,308.98 L668.26,310.86 L670.36,312.70 L672.40,314.50 L674.40,316.26 L676.35,317.98 L678.22,319.64 L680.03,321.22 L681.76,322.75 L683.44,324.22 L685.07,325.65 L686.66,327.05 L688.19,328.40 L689.67,329.70 L691.09,330.94 L692.43,332.11 L693.71,333.23 L694.93,334.29 L696.09,335.30 L697.19,336.27 L698.23,337.19 L699.21,338.06 L700.15,338.88 L701.03,339.66 L701.86,340.39 L702.64,341.09 L703.39,341.74 L704.09,342.36 L704.75,342.93 L705.38,343.48 L705.97,344.00 L706.53,344.49 L707.06,344.96 L707.56,345.40 L708.04,345.82 L708.51,346.23 L708.95,346.63 L709.37,347.00 L709.78,347.35 L710.16,347.69 L710.52,348.01 L710.87,348.32 L711.20,348.61 L711.51,348.88 L711.80,349.13 L712.07,349.36 L712.33,349.58 L712.57,349.79 L712.79,349.98 L712.99,350.17 L713.18,350.34 L713.37,350.50 L713.53,350.64 L713.69,350.78 L713.84,350.91 L713.97,351.03 L714.10,351.14 L714.22,351.25 L714.32,351.34 L714.41,351.42 L714.49,351.49 L714.56,351.55 L714.63,351.61 L714.70,351.67 L714.75,351.72 L714.82,351.78 L714.89,351.84 L714.98,351.92 L715.08,352.01 L715.18,352.10 L715.29,352.19 L715.39,352.28 L715.50,352.37 L715.59,352.46 L715.65,352.52 Z"/></clipPath><filter id="bl" x="-5%%" y="-5%%" width="110%%" height="110%%"><feGaussianBlur stdDeviation="1.5"/></filter></defs>
<text class="h" x="8.00 17.00 26.00 35.00 44.00 53.00 62.00 71.00 80.00" y="21.70">Luminous:</text>
<text class="t" x="16.00 24.00 32.00 40.00 48.00 56.00 64.00 72.00" y="51.00">Luminous</text>
<text class="t" x="88.00 96.00 104.00 112.00 120.00" y="51.00">flux:</text>
<text class="t" x="136.00 144.00 152.00 160.00 168.00 176.00 184.00 192.00 200.00" y="51.00">1234.301m</text>
<text class="t" x="240.00 248.00 256.00 264.00 272.00 280.00 288.00 296.00" y="51.00">Luminous</text>
<text class="t" x="312.00 320.00 328.00 336.00 344.00 352.00" y="51.00">power:</text>
<text class="t" x="368.00 376.00 384.00 392.00 400.00 408.00 416.00 424.00 432.00" y="51.00">4219.36mw</text>
<text class="t" x="464.00 472.00 480.00 488.00 496.00 504.00 512.00 520.00" y="51.00">Luminous</text>
<text class="t" x="536.00 544.00 552.00 560.00 568.00 576.00 584.00 592.00 600.00 608.00 616.00" y="51.00">efficiency:</text>
<text class="t" x="632.00 640.00 648.00 656.00 664.00" y="51.00">0lm/W</text>
<text class="t" x="16.00 24.00 32.00 40.00 48.00 56.00 64.00 72.00 80.00 88.00 96.00 104.00 112.00 120.00" y="80.00">Photon(umol/s)</text>
<text class="c" x="128.00" y="80.00">：</text>
<text class="t" x="142.00 150.00 158.00 166.00 174.00 182.00 190.00 198.00 206.00 214.00 222.00 230.00 238.00 246.00 254.00 262.00 270.00 278.00 286.00" y="80.00">18.81549[380-780nm]</text>
<text class="t" x="310.00 318.00 326.00 334.00 342.00 350.00 358.00 366.00 374.00 382.00 390.00 398.00 406.00 414.00 422.00 430.00 438.00 446.00 454.00" y="80.00">18.31719[400-700nm]</text>
<text class="t" x="478.00 486.00 494.00 502.00 510.00 518.00 526.00 534.00 542.00 550.00 558.00 566.00 574.00 582.00 590.00 598.00 606.00 614.00" y="80.00">0.52146[700-800nm]</text>
<text class="t" x="16.00 24.00 32.00" y="109.00">PPF</text>
<text class="c" x="40.00" y="109.00">：</text>
<text class="t" x="54.00 62.00 70.00 78.00 86.00 94.00 102.00 110.00 118.00 126.00 134.00 142.00 150.00 158.00" y="109.00">18.31719umol/s</text>
<text class="t" x="198.00 206.00 214.00" y="109.00">PAR</text>
<text class="c" x="222.00" y="109.00">：</text>
<text class="t" x="236.00 244.00 252.00 260.00 268.00 276.00 284.00 292.00 300.00 308.00" y="109.00">4137.013mW</text>
<text class="t" x="16.00 24.00 32.00 40.00 48.00 56.00 64.00 72.00" y="138.00">Eff(PPF)</text>
<text class="c" x="80.00" y="138.00">：</text>
<text class="t" x="94.00 102.00 110.00 118.00 126.00 134.00 142.00 150.00 158.00 166.00 174.00 182.00 190.00 198.00" y="138.00">18.317umol/s/W</text>
<text class="t" x="222.00 230.00 238.00 246.00 254.00 262.00 270.00 278.00 286.00 294.00 302.00 310.00" y="138.00">Fluorescence</text>
<text class="t" x="326.00 334.00 342.00 350.00 358.00 366.00 374.00 382.00 390.00 398.00" y="138.00">efficiency</text>
<text class="c" x="406.00" y="138.00">：</text>
<text class="t" x="420.00 428.00 436.00 444.00 452.00" y="138.00">3.302</text>
<text class="t" x="476.00 484.00 492.00 500.00 508.00 516.00 524.00 532.00 540.00 548.00 556.00 564.00" y="138.00">Fluorescence</text>
<text class="t" x="580.00 588.00 596.00 604.00 612.00" y="138.00">ratio</text>
<text class="c" x="620.00" y="138.00">：</text>
<text class="t" x="634.00 642.00 650.00 658.00 666.00" y="138.00">3.579</text>
<text class="st" x="123.00 131.00 139.00 147.00 155.00 163.00 171.00 179.00" y="179.00">Spectrum</text>
<text class="st" x="195.00 203.00 211.00 219.00 227.00 235.00" y="179.00">energy</text>
<text class="st" x="251.00 259.00 267.00 275.00 283.00 291.00 299.00 307.00 315.00 323.00 331.00 339.00" y="179.00">distribution</text>
<polygon points="140.0,418.6 140.5,417.9 141.1,417.0 141.8,416.0 142.4,415.2 143.0,414.3 143.6,413.4 144.4,412.3 145.2,411.2 146.0,410.0 146.7,408.8 147.3,407.5 148.0,406.0 148.8,404.4 149.7,402.5 150.5,400.5 151.2,398.2 151.8,395.6 152.4,393.0 152.9,390.6 153.4,388.1 153.8,385.0 154.2,381.3 154.6,377.1 155.2,372.0 156.0,365.6 157.0,358.3 157.9,351.0 158.6,344.3 159.2,337.7 159.8,330.0 160.5,320.7 161.3,310.3 162.0,300.0 162.8,289.3 163.5,278.5 164.2,270.0 164.7,265.6 165.0,263.3 165.3,260.0 165.6,253.8 166.0,246.5 166.3,240.0 166.6,235.1 167.0,230.9 167.3,227.0 167.6,223.0 167.9,219.3 168.2,216.0 168.5,213.4 168.8,211.2 169.2,209.5 169.7,208.3 170.2,207.5 170.6,207.0 170.9,207.4 171.2,207.8 171.7,208.5 172.0,209.5 172.2,210.7 172.4,212.1 172.7,213.8 172.9,216.0 173.2,218.7 173.6,221.9 174.0,225.4 174.3,229.0 174.6,232.8 174.8,236.9 175.0,241.0 175.2,245.0 175.4,248.9 175.5,252.9 175.6,256.6 175.8,260.0 176.0,262.4 176.2,264.1 176.5,266.2 176.8,270.0 177.2,276.1 177.6,283.8 178.0,292.0 178.4,300.0 178.8,307.7 179.1,315.6 179.5,323.1 180.0,330.0 180.6,335.9 181.2,341.1 181.9,346.0 182.7,351.0 183.6,356.4 184.5,362.0 185.5,367.3 186.4,372.0 187.3,375.9 188.1,379.2 188.9,382.1 189.7,385.0 190.5,387.8 191.2,390.5 191.9,393.0 192.6,395.0 193.3,396.6 194.0,397.7 194.8,398.7 195.5,399.5 196.2,400.2 197.0,400.8 197.7,401.3 198.5,401.6 199.3,401.8 200.0,402.0 200.8,402.0 201.5,402.0 202.2,402.0 202.9,402.0 203.6,401.8 204.4,401.2 205.2,400.2 206.0,399.0 206.9,397.4 207.8,395.5 208.8,393.1 209.8,390.4 210.9,387.5 212.0,385.0 213.1,383.1 214.1,381.5 215.2,379.8 216.5,377.4 218.0,374.0 219.5,370.0 221.2,365.7 222.9,361.6 224.7,357.5 226.5,353.2 228.3,349.2 230.0,345.8 231.5,343.2 232.8,341.2 234.1,339.5 235.5,337.9 236.9,336.4 238.4,335.2 239.9,334.1 241.8,333.2 244.1,332.5 246.7,331.9 249.4,331.5 251.8,331.3 253.9,331.3 255.9,331.6 257.8,332.0 259.7,332.5 261.7,333.2 263.6,334.0 265.5,335.0 267.5,336.0 269.5,337.1 271.4,338.3 273.4,339.5 275.4,340.8 277.4,342.1 279.3,343.4 281.3,344.8 283.3,346.3 285.3,348.0 287.3,349.8 289.3,351.6 291.2,353.4 293.1,355.2 295.0,357.0 296.9,358.7 298.7,360.5 300.4,362.2 302.1,363.9 303.8,365.6 305.5,367.3 307.2,369.0 308.9,370.7 310.7,372.4 312.4,374.2 314.1,376.1 315.8,378.1 317.5,380.1 319.2,382.0 320.9,383.7 322.6,385.3 324.4,386.8 326.1,388.3 328.0,389.7 329.9,391.1 331.7,392.4 333.3,393.5 334.5,394.3 335.3,394.8 336.2,395.3 337.4,396.0 339.0,397.0 340.8,398.2 342.8,399.4 344.7,400.6 346.5,401.7 348.4,402.9 350.2,403.9 352.1,404.9 354.0,405.7 355.8,406.5 357.7,407.1 359.5,407.8 361.3,408.5 363.2,409.2 365.0,409.8 366.8,410.4 368.7,410.9 370.6,411.4 372.5,411.8 374.2,412.2 375.6,412.5 376.8,412.7 378.1,412.9 380.0,413.2 382.7,413.7 386.0,414.4 389.4,415.0 392.6,415.6 395.4,416.0 398.1,416.4 400.6,416.7 403.0,417.0 405.4,417.2 407.6,417.4 409.6,417.5 411.0,417.6 411.0,419.0" fill="url(#sg)" shape-rendering="crispEdges"/>
<rect x="58" y="205" width="2" height="215" fill="#000"/>
<rect x="58" y="418" width="382" height="2" fill="#000"/>
<rect x="54" y="419.0" width="4" height="1" fill="#000"/>
<text class="ax" x="42.4" y="423.1">0</text>
<rect x="54" y="375.5" width="4" height="1" fill="#000"/>
<text class="ax" x="36.5 42.4" y="379.6">20</text>
<rect x="54" y="333.4" width="4" height="1" fill="#000"/>
<text class="ax" x="36.5 42.4" y="337.5">40</text>
<rect x="54" y="290.3" width="4" height="1" fill="#000"/>
<text class="ax" x="36.5 42.4" y="294.4">60</text>
<rect x="54" y="247.9" width="4" height="1" fill="#000"/>
<text class="ax" x="36.5 42.4" y="252.0">80</text>
<rect x="54" y="205.9" width="4" height="1" fill="#000"/>
<text class="ax" x="30.6 36.5 42.4" y="210.0">100</text>
<rect x="59" y="420" width="1" height="4" fill="#000"/>
<text class="ax" x="50.4 56.3 62.2" y="438.2">300</text>
<rect x="97" y="420" width="1" height="4" fill="#000"/>
<text class="ax" x="88.5 94.4 100.2" y="438.2">350</text>
<rect x="135" y="420" width="1" height="4" fill="#000"/>
<text class="ax" x="126.5 132.3 138.2" y="438.2">400</text>
<rect x="173" y="420" width="1" height="4" fill="#000"/>
<text class="ax" x="164.5 170.4 176.3" y="438.2">450</text>
<rect x="211" y="420" width="1" height="4" fill="#000"/>
<text class="ax" x="202.5 208.4 214.3" y="438.2">500</text>
<rect x="249" y="420" width="1" height="4" fill="#000"/>
<text class="ax" x="240.5 246.4 252.3" y="438.2">550</text>
<rect x="287" y="420" width="1" height="4" fill="#000"/>
<text class="ax" x="278.4 284.3 290.2" y="438.2">600</text>
<rect x="325" y="420" width="1" height="4" fill="#000"/>
<text class="ax" x="316.4 322.3 328.2" y="438.2">650</text>
<rect x="363" y="420" width="1" height="4" fill="#000"/>
<text class="ax" x="354.4 360.3 366.2" y="438.2">700</text>
<rect x="401" y="420" width="1" height="4" fill="#000"/>
<text class="ax" x="392.4 398.3 404.2" y="438.2">750</text>
<rect x="439" y="420" width="1" height="4" fill="#000"/>
<text class="ax" x="430.4 436.3 442.2" y="438.2">800</text>
<text class="pc" x="55.6" y="198.6">%</text>
<text class="nm" x="443.8" y="418">nm</text>
<text class="ct" x="576.8" y="179.8" textLength="55" lengthAdjust="spacing">CIE1931</text>
<path d="M549.6,207V418 M591.9,207V418 M634.8,207V418 M677.3,207V418 M508,248.5H719 M508,290.8H719 M508,333.7H719 M508,376.4H719" stroke="#c4c4c4" stroke-width="1" stroke-dasharray="4,2" stroke-dashoffset="0.6" fill="none"/>
<g clip-path="url(#hs)"><g filter="url(#bl)"><rect x="506" y="206" width="216" height="3" fill="url(#r206)"/><rect x="506" y="209" width="216" height="3" fill="url(#r209)"/><rect x="506" y="212" width="216" height="3" fill="url(#r212)"/><rect x="506" y="215" width="216" height="3" fill="url(#r215)"/><rect x="506" y="218" width="216" height="3" fill="url(#r218)"/><rect x="506" y="221" width="216" height="3" fill="url(#r221)"/><rect x="506" y="224" width="216" height="3" fill="url(#r224)"/><rect x="506" y="227" width="216" height="3" fill="url(#r227)"/><rect x="506" y="230" width="216" height="3" fill="url(#r230)"/><rect x="506" y="233" width="216" height="3" fill="url(#r233)"/><rect x="506" y="236" width="216" height="3" fill="url(#r236)"/><rect x="506" y="239" width="216" height="3" fill="url(#r239)"/><rect x="506" y="242" width="216" height="3" fill="url(#r242)"/><rect x="506" y="245" width="216" height="3" fill="url(#r245)"/><rect x="506" y="248" width="216" height="3" fill="url(#r248)"/><rect x="506" y="251" width="216" height="3" fill="url(#r251)"/><rect x="506" y="254" width="216" height="3" fill="url(#r254)"/><rect x="506" y="257" width="216" height="3" fill="url(#r257)"/><rect x="506" y="260" width="216" height="3" fill="url(#r260)"/><rect x="506" y="263" width="216" height="3" fill="url(#r263)"/><rect x="506" y="266" width="216" height="3" fill="url(#r266)"/><rect x="506" y="269" width="216" height="3" fill="url(#r269)"/><rect x="506" y="272" width="216" height="3" fill="url(#r272)"/><rect x="506" y="275" width="216" height="3" fill="url(#r275)"/><rect x="506" y="278" width="216" height="3" fill="url(#r278)"/><rect x="506" y="281" width="216" height="3" fill="url(#r281)"/><rect x="506" y="284" width="216" height="3" fill="url(#r284)"/><rect x="506" y="287" width="216" height="3" fill="url(#r287)"/><rect x="506" y="290" width="216" height="3" fill="url(#r290)"/><rect x="506" y="293" width="216" height="3" fill="url(#r293)"/><rect x="506" y="296" width="216" height="3" fill="url(#r296)"/><rect x="506" y="299" width="216" height="3" fill="url(#r299)"/><rect x="506" y="302" width="216" height="3" fill="url(#r302)"/><rect x="506" y="305" width="216" height="3" fill="url(#r305)"/><rect x="506" y="308" width="216" height="3" fill="url(#r308)"/><rect x="506" y="311" width="216" height="3" fill="url(#r311)"/><rect x="506" y="314" width="216" height="3" fill="url(#r314)"/><rect x="506" y="317" width="216" height="3" fill="url(#r317)"/><rect x="506" y="320" width="216" height="3" fill="url(#r320)"/><rect x="506" y="323" width="216" height="3" fill="url(#r323)"/><rect x="506" y="326" width="216" height="3" fill="url(#r326)"/><rect x="506" y="329" width="216" height="3" fill="url(#r329)"/><rect x="506" y="332" width="216" height="3" fill="url(#r332)"/><rect x="506" y="335" width="216" height="3" fill="url(#r335)"/><rect x="506" y="338" width="216" height="3" fill="url(#r338)"/><rect x="506" y="341" width="216" height="3" fill="url(#r341)"/><rect x="506" y="344" width="216" height="3" fill="url(#r344)"/><rect x="506" y="347" width="216" height="3" fill="url(#r347)"/><rect x="506" y="350" width="216" height="3" fill="url(#r350)"/><rect x="506" y="353" width="216" height="3" fill="url(#r353)"/><rect x="506" y="356" width="216" height="3" fill="url(#r356)"/><rect x="506" y="359" width="216" height="3" fill="url(#r359)"/><rect x="506" y="362" width="216" height="3" fill="url(#r362)"/><rect x="506" y="365" width="216" height="3" fill="url(#r365)"/><rect x="506" y="368" width="216" height="3" fill="url(#r368)"/><rect x="506" y="371" width="216" height="3" fill="url(#r371)"/><rect x="506" y="374" width="216" height="3" fill="url(#r374)"/><rect x="506" y="377" width="216" height="3" fill="url(#r377)"/><rect x="506" y="380" width="216" height="3" fill="url(#r380)"/><rect x="506" y="383" width="216" height="3" fill="url(#r383)"/><rect x="506" y="386" width="216" height="3" fill="url(#r386)"/><rect x="506" y="389" width="216" height="3" fill="url(#r389)"/><rect x="506" y="392" width="216" height="3" fill="url(#r392)"/><rect x="506" y="395" width="216" height="3" fill="url(#r395)"/><rect x="506" y="398" width="216" height="3" fill="url(#r398)"/><rect x="506" y="401" width="216" height="3" fill="url(#r401)"/><rect x="506" y="404" width="216" height="3" fill="url(#r404)"/><rect x="506" y="407" width="216" height="3" fill="url(#r407)"/><rect x="506" y="410" width="216" height="3" fill="url(#r410)"/><rect x="506" y="413" width="216" height="3" fill="url(#r413)"/><rect x="506" y="416" width="216" height="3" fill="url(#r416)"/></g></g>
<path d="M549.6,207V418 M591.9,207V418 M634.8,207V418 M677.3,207V418 M508,248.5H719 M508,290.8H719 M508,333.7H719 M508,376.4H719" stroke="#a0a0a0" stroke-opacity="0.65" stroke-width="1" stroke-dasharray="4,2" stroke-dashoffset="0.6" fill="none" clip-path="url(#hs)"/>
<path d="M556.44,417.75 L556.44,417.75 L556.43,417.75 L556.43,417.75 L556.42,417.75 L556.40,417.75 L556.39,417.76 L556.37,417.77 L556.36,417.77 L556.35,417.77 L556.33,417.77 L556.32,417.77 L556.30,417.77 L556.28,417.78 L556.26,417.78 L556.24,417.79 L556.22,417.80 L556.20,417.80 L556.18,417.80 L556.16,417.80 L556.13,417.80 L556.11,417.80 L556.08,417.80 L556.05,417.80 L556.02,417.80 L555.99,417.80 L555.95,417.80 L555.92,417.80 L555.88,417.80 L555.83,417.79 L555.79,417.77 L555.74,417.75 L555.68,417.72 L555.61,417.69 L555.53,417.65 L555.45,417.60 L555.37,417.55 L555.28,417.49 L555.18,417.42 L555.08,417.35 L554.97,417.27 L554.84,417.18 L554.70,417.08 L554.56,416.97 L554.40,416.84 L554.24,416.71 L554.07,416.58 L553.89,416.43 L553.69,416.27 L553.48,416.10 L553.26,415.93 L553.02,415.74 L552.75,415.54 L552.46,415.32 L552.15,415.09 L551.82,414.83 L551.47,414.56 L551.11,414.28 L550.72,413.99 L550.32,413.67 L549.88,413.31 L549.42,412.93 L548.94,412.52 L548.43,412.06 L547.90,411.56 L547.34,411.02 L546.77,410.45 L546.15,409.79 L545.48,409.00 L544.75,408.08 L543.97,407.05 L543.14,405.88 L542.24,404.52 L541.30,402.99 L540.31,401.32 L539.25,399.43 L538.13,397.25 L536.93,394.80 L535.67,392.11 L534.34,389.11 L532.93,385.75 L531.42,382.03 L529.81,377.98 L528.16,373.56 L526.51,368.70 L524.86,363.40 L523.19,357.67 L521.52,351.55 L519.89,345.07 L518.27,338.16 L516.64,330.82 L515.09,323.23 L513.67,315.58 L512.38,307.79 L511.19,299.81 L510.15,291.84 L509.33,284.08 L508.71,276.50 L508.27,269.02 L508.05,261.77 L508.11,254.91 L508.43,248.36 L509.01,242.10 L509.84,236.26 L510.95,231.00 L512.35,226.30 L514.05,222.10 L515.97,218.48 L518.05,215.51 L520.32,213.27 L522.81,211.69 L525.43,210.66 L528.10,210.05 L530.84,209.93 L533.68,210.34 L536.56,211.08 L539.43,211.95 L542.31,212.98 L545.21,214.24 L548.10,215.62 L550.93,217.04 L553.70,218.48 L556.43,219.98 L559.12,221.53 L561.78,223.13 L564.42,224.77 L567.03,226.46 L569.62,228.20 L572.21,229.97 L574.79,231.79 L577.36,233.66 L579.93,235.56 L582.49,237.49 L585.04,239.45 L587.58,241.45 L590.12,243.47 L592.65,245.51 L595.19,247.57 L597.72,249.66 L600.26,251.76 L602.79,253.88 L605.33,256.01 L607.88,258.17 L610.42,260.33 L612.96,262.50 L615.49,264.68 L618.02,266.87 L620.55,269.06 L623.07,271.25 L625.59,273.44 L628.11,275.63 L630.63,277.81 L633.12,279.99 L635.61,282.17 L638.08,284.34 L640.54,286.49 L642.98,288.64 L645.40,290.77 L647.81,292.88 L650.19,294.98 L652.55,297.06 L654.88,299.11 L657.20,301.15 L659.48,303.15 L661.72,305.13 L663.94,307.07 L666.12,308.98 L668.26,310.86 L670.36,312.70 L672.40,314.50 L674.40,316.26 L676.35,317.98 L678.22,319.64 L680.03,321.22 L681.76,322.75 L683.44,324.22 L685.07,325.65 L686.66,327.05 L688.19,328.40 L689.67,329.70 L691.09,330.94 L692.43,332.11 L693.71,333.23 L694.93,334.29 L696.09,335.30 L697.19,336.27 L698.23,337.19 L699.21,338.06 L700.15,338.88 L701.03,339.66 L701.86,340.39 L702.64,341.09 L703.39,341.74 L704.09,342.36 L704.75,342.93 L705.38,343.48 L705.97,344.00 L706.53,344.49 L707.06,344.96 L707.56,345.40 L708.04,345.82 L708.51,346.23 L708.95,346.63 L709.37,347.00 L709.78,347.35 L710.16,347.69 L710.52,348.01 L710.87,348.32 L711.20,348.61 L711.51,348.88 L711.80,349.13 L712.07,349.36 L712.33,349.58 L712.57,349.79 L712.79,349.98 L712.99,350.17 L713.18,350.34 L713.37,350.50 L713.53,350.64 L713.69,350.78 L713.84,350.91 L713.97,351.03 L714.10,351.14 L714.22,351.25 L714.32,351.34 L714.41,351.42 L714.49,351.49 L714.56,351.55 L714.63,351.61 L714.70,351.67 L714.75,351.72 L714.82,351.78 L714.89,351.84 L714.98,351.92 L715.08,352.01 L715.18,352.10 L715.29,352.19 L715.39,352.28 L715.50,352.37 L715.59,352.46 L715.65,352.52 Z" fill="none" stroke="#fff" stroke-width="2.2" clip-path="url(#hs)"/>
<path d="M556.44,417.75 L556.44,417.75 L556.43,417.75 L556.43,417.75 L556.42,417.75 L556.40,417.75 L556.39,417.76 L556.37,417.77 L556.36,417.77 L556.35,417.77 L556.33,417.77 L556.32,417.77 L556.30,417.77 L556.28,417.78 L556.26,417.78 L556.24,417.79 L556.22,417.80 L556.20,417.80 L556.18,417.80 L556.16,417.80 L556.13,417.80 L556.11,417.80 L556.08,417.80 L556.05,417.80 L556.02,417.80 L555.99,417.80 L555.95,417.80 L555.92,417.80 L555.88,417.80 L555.83,417.79 L555.79,417.77 L555.74,417.75 L555.68,417.72 L555.61,417.69 L555.53,417.65 L555.45,417.60 L555.37,417.55 L555.28,417.49 L555.18,417.42 L555.08,417.35 L554.97,417.27 L554.84,417.18 L554.70,417.08 L554.56,416.97 L554.40,416.84 L554.24,416.71 L554.07,416.58 L553.89,416.43 L553.69,416.27 L553.48,416.10 L553.26,415.93 L553.02,415.74 L552.75,415.54 L552.46,415.32 L552.15,415.09 L551.82,414.83 L551.47,414.56 L551.11,414.28 L550.72,413.99 L550.32,413.67 L549.88,413.31 L549.42,412.93 L548.94,412.52 L548.43,412.06 L547.90,411.56 L547.34,411.02 L546.77,410.45 L546.15,409.79 L545.48,409.00 L544.75,408.08 L543.97,407.05 L543.14,405.88 L542.24,404.52 L541.30,402.99 L540.31,401.32 L539.25,399.43 L538.13,397.25 L536.93,394.80 L535.67,392.11 L534.34,389.11 L532.93,385.75 L531.42,382.03 L529.81,377.98 L528.16,373.56 L526.51,368.70 L524.86,363.40 L523.19,357.67 L521.52,351.55 L519.89,345.07 L518.27,338.16 L516.64,330.82 L515.09,323.23 L513.67,315.58 L512.38,307.79 L511.19,299.81 L510.15,291.84 L509.33,284.08 L508.71,276.50 L508.27,269.02 L508.05,261.77 L508.11,254.91 L508.43,248.36 L509.01,242.10 L509.84,236.26 L510.95,231.00 L512.35,226.30 L514.05,222.10 L515.97,218.48 L518.05,215.51 L520.32,213.27 L522.81,211.69 L525.43,210.66 L528.10,210.05 L530.84,209.93 L533.68,210.34 L536.56,211.08 L539.43,211.95 L542.31,212.98 L545.21,214.24 L548.10,215.62 L550.93,217.04 L553.70,218.48 L556.43,219.98 L559.12,221.53 L561.78,223.13 L564.42,224.77 L567.03,226.46 L569.62,228.20 L572.21,229.97 L574.79,231.79 L577.36,233.66 L579.93,235.56 L582.49,237.49 L585.04,239.45 L587.58,241.45 L590.12,243.47 L592.65,245.51 L595.19,247.57 L597.72,249.66 L600.26,251.76 L602.79,253.88 L605.33,256.01 L607.88,258.17 L610.42,260.33 L612.96,262.50 L615.49,264.68 L618.02,266.87 L620.55,269.06 L623.07,271.25 L625.59,273.44 L628.11,275.63 L630.63,277.81 L633.12,279.99 L635.61,282.17 L638.08,284.34 L640.54,286.49 L642.98,288.64 L645.40,290.77 L647.81,292.88 L650.19,294.98 L652.55,297.06 L654.88,299.11 L657.20,301.15 L659.48,303.15 L661.72,305.13 L663.94,307.07 L666.12,308.98 L668.26,310.86 L670.36,312.70 L672.40,314.50 L674.40,316.26 L676.35,317.98 L678.22,319.64 L680.03,321.22 L681.76,322.75 L683.44,324.22 L685.07,325.65 L686.66,327.05 L688.19,328.40 L689.67,329.70 L691.09,330.94 L692.43,332.11 L693.71,333.23 L694.93,334.29 L696.09,335.30 L697.19,336.27 L698.23,337.19 L699.21,338.06 L700.15,338.88 L701.03,339.66 L701.86,340.39 L702.64,341.09 L703.39,341.74 L704.09,342.36 L704.75,342.93 L705.38,343.48 L705.97,344.00 L706.53,344.49 L707.06,344.96 L707.56,345.40 L708.04,345.82 L708.51,346.23 L708.95,346.63 L709.37,347.00 L709.78,347.35 L710.16,347.69 L710.52,348.01 L710.87,348.32 L711.20,348.61 L711.51,348.88 L711.80,349.13 L712.07,349.36 L712.33,349.58 L712.57,349.79 L712.79,349.98 L712.99,350.17 L713.18,350.34 L713.37,350.50 L713.53,350.64 L713.69,350.78 L713.84,350.91 L713.97,351.03 L714.10,351.14 L714.22,351.25 L714.32,351.34 L714.41,351.42 L714.49,351.49 L714.56,351.55 L714.63,351.61 L714.70,351.67 L714.75,351.72 L714.82,351.78 L714.89,351.84 L714.98,351.92 L715.08,352.01 L715.18,352.10 L715.29,352.19 L715.39,352.28 L715.50,352.37 L715.59,352.46 L715.65,352.52 Z" fill="none" stroke="#111" stroke-width="1"/>
<polyline points="578.7,355.8 578.9,355.6 579.0,355.4 579.2,355.2 579.4,354.9 579.6,354.7 579.8,354.4 580.0,354.2 580.3,353.9 580.5,353.6 580.8,353.3 581.1,353.0 581.3,352.7 581.6,352.3 582.0,351.9 582.3,351.6 582.7,351.1 583.0,350.7 583.4,350.3 583.9,349.8 584.3,349.3 584.8,348.8 585.3,348.3 585.8,347.7 586.3,347.2 586.9,346.6 587.5,345.9 588.2,345.3 588.8,344.6 589.6,343.9 590.3,343.1 591.1,342.4 591.9,341.6 592.8,340.8 593.7,339.9 594.7,339.0 595.7,338.1 596.8,337.2 597.9,336.3 599.1,335.3 600.4,334.3 601.7,333.3 603.1,332.3 604.5,331.2 606.0,330.2 607.5,329.1 609.1,328.1 610.8,327.0 612.6,326.0 614.4,325.0 616.3,323.9 618.2,322.9 620.2,321.9 622.2,321.0 624.3,320.1 626.4,319.3 628.6,318.5 630.8,317.8 633.0,317.1 635.3,316.6 637.6,316.1 639.9,315.6 642.3,315.3 644.7,315.1 647.1,315.0 649.5,314.9 651.9,315.0 654.3,315.2 656.6,315.4 658.9,315.8 661.2,316.3 663.4,316.8 665.5,317.4 667.5,318.1 669.4,318.8 671.1,319.5 672.6,320.2 674.0,320.8 675.0,321.3 675.8,321.7" fill="none" stroke="#000" stroke-width="1.9" stroke-linecap="round" stroke-linejoin="round"/>
<rect x="507" y="206" width="213" height="213" fill="none" stroke="#000" stroke-width="2"/>
<text class="cl" x="496.0" y="422.8">0</text>
<text class="cl" x="478.0 484.0 490.0 496.0" y="380.2">0.17</text>
<text class="cl" x="478.0 484.0 490.0 496.0" y="337.6">0.34</text>
<text class="cl" x="478.0 484.0 490.0 496.0" y="295.0">0.51</text>
<text class="cl" x="478.0 484.0 490.0 496.0" y="252.4">0.68</text>
<text class="cl" x="478.0 484.0 490.0 496.0" y="209.8">0.85</text>
<text class="cl" x="503.4" y="433.8">0</text>
<text class="cl" x="537.0 543.0 549.0 555.0" y="433.8">0.15</text>
<text class="cl" x="582.6 588.6 594.6" y="433.8">0.3</text>
<text class="cl" x="622.2 628.2 634.2 640.2" y="433.8">0.45</text>
<text class="cl" x="667.8 673.8 679.8" y="433.8">0.6</text>
<text class="cl" x="707.4 713.4 719.4 725.4" y="433.8">0.75</text>
</svg>
</body></html>
